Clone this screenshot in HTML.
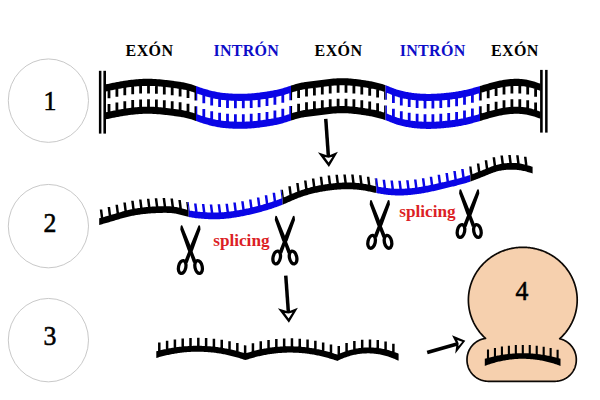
<!DOCTYPE html>
<html lang="es">
<head>
<meta charset="utf-8">
<title>Splicing</title>
<style>
html,body{margin:0;padding:0;background:#fff;}
body{width:600px;height:400px;position:relative;overflow:hidden;font-family:"Liberation Serif",serif;}
svg{position:absolute;left:0;top:0;display:block;}
.t{position:absolute;white-space:nowrap;line-height:1;margin:0;}
.lab{font-weight:bold;font-size:16px;color:#000;letter-spacing:0.4px;}
.int{color:#0d0dc8;letter-spacing:0.3px;}
.num{font-size:28px;color:#000;-webkit-text-stroke:0.6px #000;transform:scaleX(0.92);transform-origin:center;}
.sp{font-size:17.2px;font-weight:bold;color:#dc1f26;}
</style>
</head>
<body>
<svg width="600" height="400" viewBox="0 0 600 400">
<path fill="#000000" d="M105 84.5 L106 84.29 L107 84.09 L108 83.88 L109 83.68 L110 83.47 L111 83.27 L112 83.07 L113 82.87 L114 82.67 L115 82.48 L116 82.28 L117 82.09 L118 81.91 L119 81.72 L120 81.54 L121 81.36 L122 81.19 L123 81.02 L124 80.86 L125 80.7 L126 80.55 L127 80.4 L128 80.26 L129 80.12 L130 79.99 L131 79.86 L132 79.74 L133 79.63 L134 79.52 L135 79.42 L136 79.33 L137 79.24 L138 79.16 L139 79.09 L140 79.03 L141 78.97 L142 78.92 L143 78.87 L144 78.84 L145 78.81 L146 78.79 L147 78.78 L148 78.78 L149 78.79 L150 78.8 L151 78.82 L152 78.85 L153 78.89 L154 78.94 L155 79 L156 79.06 L157 79.13 L158 79.2 L159 79.28 L160 79.37 L161 79.46 L162 79.56 L163 79.66 L164 79.77 L165 79.88 L166 79.99 L167 80.11 L168 80.23 L169 80.36 L170 80.48 L171 80.61 L172 80.74 L173 80.87 L174 81 L175 81.13 L176 81.27 L177 81.4 L178 81.55 L179 81.69 L180 81.85 L181 82.01 L182 82.18 L183 82.36 L184 82.55 L185 82.75 L186 82.97 L187 83.2 L188 83.45 L189 83.72 L190 84 L191 84.3 L192 84.62 L193 84.95 L194 85.3 L195 85.65 L196 86 L196 93.1 L195 92.75 L194 92.4 L193 92.05 L192 91.72 L191 91.4 L190 91.1 L189 90.82 L188 90.55 L187 90.3 L186 90.07 L185 89.85 L184 89.65 L183 89.46 L182 89.28 L181 89.11 L180 88.95 L179 88.79 L178 88.65 L177 88.5 L176 88.37 L175 88.23 L174 88.1 L173 87.97 L172 87.84 L171 87.71 L170 87.58 L169 87.46 L168 87.33 L167 87.21 L166 87.09 L165 86.98 L164 86.87 L163 86.76 L162 86.66 L161 86.56 L160 86.47 L159 86.38 L158 86.3 L157 86.23 L156 86.16 L155 86.1 L154 86.04 L153 85.99 L152 85.95 L151 85.92 L150 85.9 L149 85.89 L148 85.88 L147 85.88 L146 85.89 L145 85.91 L144 85.94 L143 85.97 L142 86.02 L141 86.07 L140 86.13 L139 86.19 L138 86.26 L137 86.34 L136 86.43 L135 86.52 L134 86.62 L133 86.73 L132 86.84 L131 86.96 L130 87.09 L129 87.22 L128 87.36 L127 87.5 L126 87.65 L125 87.8 L124 87.96 L123 88.12 L122 88.29 L121 88.46 L120 88.64 L119 88.82 L118 89.01 L117 89.19 L116 89.38 L115 89.58 L114 89.77 L113 89.97 L112 90.17 L111 90.37 L110 90.57 L109 90.78 L108 90.98 L107 91.19 L106 91.39 L105 91.6ZM105 112.4 L106 112.19 L107 111.99 L108 111.78 L109 111.58 L110 111.37 L111 111.17 L112 110.97 L113 110.77 L114 110.57 L115 110.38 L116 110.18 L117 109.99 L118 109.81 L119 109.62 L120 109.44 L121 109.26 L122 109.09 L123 108.92 L124 108.76 L125 108.6 L126 108.45 L127 108.3 L128 108.16 L129 108.02 L130 107.89 L131 107.76 L132 107.64 L133 107.53 L134 107.42 L135 107.32 L136 107.23 L137 107.14 L138 107.06 L139 106.99 L140 106.93 L141 106.87 L142 106.82 L143 106.77 L144 106.74 L145 106.71 L146 106.69 L147 106.68 L148 106.68 L149 106.69 L150 106.7 L151 106.72 L152 106.75 L153 106.79 L154 106.84 L155 106.9 L156 106.96 L157 107.03 L158 107.1 L159 107.18 L160 107.27 L161 107.36 L162 107.46 L163 107.56 L164 107.67 L165 107.78 L166 107.89 L167 108.01 L168 108.13 L169 108.26 L170 108.38 L171 108.51 L172 108.64 L173 108.77 L174 108.9 L175 109.03 L176 109.17 L177 109.3 L178 109.45 L179 109.59 L180 109.75 L181 109.91 L182 110.08 L183 110.26 L184 110.45 L185 110.65 L186 110.87 L187 111.1 L188 111.35 L189 111.62 L190 111.9 L191 112.2 L192 112.52 L193 112.85 L194 113.2 L195 113.55 L196 113.9 L196 121 L195 120.65 L194 120.3 L193 119.95 L192 119.62 L191 119.3 L190 119 L189 118.72 L188 118.45 L187 118.2 L186 117.97 L185 117.75 L184 117.55 L183 117.36 L182 117.18 L181 117.01 L180 116.85 L179 116.69 L178 116.55 L177 116.4 L176 116.27 L175 116.13 L174 116 L173 115.87 L172 115.74 L171 115.61 L170 115.48 L169 115.36 L168 115.23 L167 115.11 L166 114.99 L165 114.88 L164 114.77 L163 114.66 L162 114.56 L161 114.46 L160 114.37 L159 114.28 L158 114.2 L157 114.13 L156 114.06 L155 114 L154 113.94 L153 113.89 L152 113.85 L151 113.82 L150 113.8 L149 113.79 L148 113.78 L147 113.78 L146 113.79 L145 113.81 L144 113.84 L143 113.87 L142 113.92 L141 113.97 L140 114.03 L139 114.09 L138 114.16 L137 114.24 L136 114.33 L135 114.42 L134 114.52 L133 114.63 L132 114.74 L131 114.86 L130 114.99 L129 115.12 L128 115.26 L127 115.4 L126 115.55 L125 115.7 L124 115.86 L123 116.02 L122 116.19 L121 116.36 L120 116.54 L119 116.72 L118 116.91 L117 117.09 L116 117.28 L115 117.48 L114 117.67 L113 117.87 L112 118.07 L111 118.27 L110 118.47 L109 118.68 L108 118.88 L107 119.09 L106 119.29 L105 119.5ZM107.6 90.28L110.4 90.28L110.4 98.28L107.6 98.28ZM115.5 88.71L118.3 88.71L118.3 96.71L115.5 96.71ZM123.4 87.33L126.2 87.33L126.2 95.33L123.4 95.33ZM131.3 86.26L134.1 86.26L134.1 94.26L131.3 94.26ZM139.2 85.59L142 85.59L142 93.59L139.2 93.59ZM147.1 85.38L149.9 85.38L149.9 93.38L147.1 93.38ZM155 85.69L157.8 85.69L157.8 93.69L155 93.69ZM162.9 86.4L165.7 86.4L165.7 94.4L162.9 94.4ZM170.8 87.36L173.6 87.36L173.6 95.36L170.8 95.36ZM178.7 88.46L181.5 88.46L181.5 96.46L178.7 96.46ZM186.6 90.05L189.4 90.05L189.4 98.05L186.6 98.05ZM194.5 92.56L196 92.56L196 100.56L194.5 100.56ZM107.6 104.08L110.4 104.08L110.4 112.08L107.6 112.08ZM115.5 102.51L118.3 102.51L118.3 110.51L115.5 110.51ZM123.4 101.13L126.2 101.13L126.2 109.13L123.4 109.13ZM131.3 100.06L134.1 100.06L134.1 108.06L131.3 108.06ZM139.2 99.39L142 99.39L142 107.39L139.2 107.39ZM147.1 99.18L149.9 99.18L149.9 107.18L147.1 107.18ZM155 99.49L157.8 99.49L157.8 107.49L155 107.49ZM162.9 100.2L165.7 100.2L165.7 108.2L162.9 108.2ZM170.8 101.16L173.6 101.16L173.6 109.16L170.8 109.16ZM178.7 102.26L181.5 102.26L181.5 110.26L178.7 110.26ZM186.6 103.85L189.4 103.85L189.4 111.85L186.6 111.85ZM194.5 106.36L196 106.36L196 114.36L194.5 114.36Z"/>
<path fill="#0a05e6" d="M196 86 L197 86.35 L198 86.71 L199 87.06 L200 87.4 L201 87.74 L202 88.08 L203 88.4 L204 88.71 L205 89.02 L206 89.31 L207 89.6 L208 89.87 L209 90.14 L210 90.4 L211 90.65 L212 90.9 L213 91.13 L214 91.36 L215 91.58 L216 91.79 L217 91.98 L218 92.17 L219 92.34 L220 92.5 L221 92.65 L222 92.78 L223 92.91 L224 93.02 L225 93.12 L226 93.21 L227 93.29 L228 93.37 L229 93.44 L230 93.5 L231 93.56 L232 93.61 L233 93.65 L234 93.69 L235 93.72 L236 93.75 L237 93.77 L238 93.79 L239 93.8 L240 93.8 L241 93.8 L242 93.79 L243 93.78 L244 93.76 L245 93.73 L246 93.7 L247 93.66 L248 93.62 L249 93.56 L250 93.5 L251 93.43 L252 93.35 L253 93.27 L254 93.18 L255 93.08 L256 92.98 L257 92.87 L258 92.75 L259 92.63 L260 92.5 L261 92.37 L262 92.23 L263 92.09 L264 91.94 L265 91.8 L266 91.64 L267 91.49 L268 91.33 L269 91.16 L270 91 L271 90.83 L272 90.66 L273 90.49 L274 90.3 L275 90.11 L276 89.91 L277 89.7 L278 89.48 L279 89.25 L280 89 L281 88.74 L282 88.46 L283 88.17 L284 87.86 L285 87.55 L286 87.24 L287 86.91 L288 86.59 L289 86.26 L290 85.93 L291 85.6 L291 92.7 L290 93.03 L289 93.36 L288 93.69 L287 94.01 L286 94.34 L285 94.65 L284 94.96 L283 95.27 L282 95.56 L281 95.84 L280 96.1 L279 96.35 L278 96.58 L277 96.8 L276 97.01 L275 97.21 L274 97.4 L273 97.59 L272 97.76 L271 97.93 L270 98.1 L269 98.26 L268 98.43 L267 98.59 L266 98.74 L265 98.9 L264 99.04 L263 99.19 L262 99.33 L261 99.47 L260 99.6 L259 99.73 L258 99.85 L257 99.97 L256 100.08 L255 100.18 L254 100.28 L253 100.37 L252 100.45 L251 100.53 L250 100.6 L249 100.66 L248 100.72 L247 100.76 L246 100.8 L245 100.83 L244 100.86 L243 100.88 L242 100.89 L241 100.9 L240 100.9 L239 100.9 L238 100.89 L237 100.87 L236 100.85 L235 100.82 L234 100.79 L233 100.75 L232 100.71 L231 100.66 L230 100.6 L229 100.54 L228 100.47 L227 100.39 L226 100.31 L225 100.22 L224 100.12 L223 100.01 L222 99.88 L221 99.75 L220 99.6 L219 99.44 L218 99.27 L217 99.08 L216 98.89 L215 98.68 L214 98.46 L213 98.23 L212 98 L211 97.75 L210 97.5 L209 97.24 L208 96.97 L207 96.7 L206 96.41 L205 96.12 L204 95.81 L203 95.5 L202 95.18 L201 94.84 L200 94.5 L199 94.16 L198 93.81 L197 93.45 L196 93.1ZM196 113.9 L197 114.25 L198 114.61 L199 114.96 L200 115.3 L201 115.64 L202 115.98 L203 116.3 L204 116.61 L205 116.92 L206 117.21 L207 117.5 L208 117.77 L209 118.04 L210 118.3 L211 118.55 L212 118.8 L213 119.03 L214 119.26 L215 119.48 L216 119.69 L217 119.88 L218 120.07 L219 120.24 L220 120.4 L221 120.55 L222 120.68 L223 120.81 L224 120.92 L225 121.02 L226 121.11 L227 121.19 L228 121.27 L229 121.34 L230 121.4 L231 121.46 L232 121.51 L233 121.55 L234 121.59 L235 121.62 L236 121.65 L237 121.67 L238 121.69 L239 121.7 L240 121.7 L241 121.7 L242 121.69 L243 121.68 L244 121.66 L245 121.63 L246 121.6 L247 121.56 L248 121.52 L249 121.46 L250 121.4 L251 121.33 L252 121.25 L253 121.17 L254 121.08 L255 120.98 L256 120.88 L257 120.77 L258 120.65 L259 120.53 L260 120.4 L261 120.27 L262 120.13 L263 119.99 L264 119.84 L265 119.7 L266 119.54 L267 119.39 L268 119.23 L269 119.06 L270 118.9 L271 118.73 L272 118.56 L273 118.39 L274 118.2 L275 118.01 L276 117.81 L277 117.6 L278 117.38 L279 117.15 L280 116.9 L281 116.64 L282 116.36 L283 116.07 L284 115.76 L285 115.45 L286 115.14 L287 114.81 L288 114.49 L289 114.16 L290 113.83 L291 113.5 L291 120.6 L290 120.93 L289 121.26 L288 121.59 L287 121.91 L286 122.24 L285 122.55 L284 122.86 L283 123.17 L282 123.46 L281 123.74 L280 124 L279 124.25 L278 124.48 L277 124.7 L276 124.91 L275 125.11 L274 125.3 L273 125.49 L272 125.66 L271 125.83 L270 126 L269 126.16 L268 126.33 L267 126.49 L266 126.64 L265 126.8 L264 126.94 L263 127.09 L262 127.23 L261 127.37 L260 127.5 L259 127.63 L258 127.75 L257 127.87 L256 127.98 L255 128.08 L254 128.18 L253 128.27 L252 128.35 L251 128.43 L250 128.5 L249 128.56 L248 128.62 L247 128.66 L246 128.7 L245 128.73 L244 128.76 L243 128.78 L242 128.79 L241 128.8 L240 128.8 L239 128.8 L238 128.79 L237 128.77 L236 128.75 L235 128.72 L234 128.69 L233 128.65 L232 128.61 L231 128.56 L230 128.5 L229 128.44 L228 128.37 L227 128.29 L226 128.21 L225 128.12 L224 128.02 L223 127.91 L222 127.78 L221 127.65 L220 127.5 L219 127.34 L218 127.17 L217 126.98 L216 126.79 L215 126.58 L214 126.36 L213 126.13 L212 125.9 L211 125.65 L210 125.4 L209 125.14 L208 124.87 L207 124.6 L206 124.31 L205 124.02 L204 123.71 L203 123.4 L202 123.08 L201 122.74 L200 122.4 L199 122.06 L198 121.71 L197 121.35 L196 121ZM196 92.56L197.3 92.56L197.3 100.56L196 100.56ZM202.4 95.25L205.2 95.25L205.2 103.25L202.4 103.25ZM210.3 97.42L213.1 97.42L213.1 105.42L210.3 105.42ZM218.2 99.04L221 99.04L221 107.04L218.2 107.04ZM226.1 99.93L228.9 99.93L228.9 107.93L226.1 107.93ZM234 100.33L236.8 100.33L236.8 108.33L234 108.33ZM241.9 100.37L244.7 100.37L244.7 108.37L241.9 108.37ZM249.8 100.02L252.6 100.02L252.6 108.02L249.8 108.02ZM257.7 99.21L260.5 99.21L260.5 107.21L257.7 107.21ZM265.6 98.09L268.4 98.09L268.4 106.09L265.6 106.09ZM273.5 96.73L276.3 96.73L276.3 104.73L273.5 104.73ZM281.4 94.83L284.2 94.83L284.2 102.83L281.4 102.83ZM289.3 92.3L291 92.3L291 100.3L289.3 100.3ZM196 106.36L197.3 106.36L197.3 114.36L196 114.36ZM202.4 109.05L205.2 109.05L205.2 117.05L202.4 117.05ZM210.3 111.22L213.1 111.22L213.1 119.22L210.3 119.22ZM218.2 112.84L221 112.84L221 120.84L218.2 120.84ZM226.1 113.73L228.9 113.73L228.9 121.73L226.1 121.73ZM234 114.13L236.8 114.13L236.8 122.13L234 122.13ZM241.9 114.17L244.7 114.17L244.7 122.17L241.9 122.17ZM249.8 113.82L252.6 113.82L252.6 121.82L249.8 121.82ZM257.7 113.01L260.5 113.01L260.5 121.01L257.7 121.01ZM265.6 111.89L268.4 111.89L268.4 119.89L265.6 119.89ZM273.5 110.53L276.3 110.53L276.3 118.53L273.5 118.53ZM281.4 108.63L284.2 108.63L284.2 116.63L281.4 116.63ZM289.3 106.1L291 106.1L291 114.1L289.3 114.1Z"/>
<path fill="#000000" d="M291 85.6 L292 85.28 L293 84.96 L294 84.64 L295 84.34 L296 84.04 L297 83.76 L298 83.49 L299 83.24 L300 83 L301 82.78 L302 82.58 L303 82.39 L304 82.22 L305 82.05 L306 81.9 L307 81.76 L308 81.63 L309 81.5 L310 81.38 L311 81.27 L312 81.15 L313 81.03 L314 80.92 L315 80.8 L316 80.68 L317 80.55 L318 80.42 L319 80.29 L320 80.16 L321 80.03 L322 79.9 L323 79.76 L324 79.63 L325 79.5 L326 79.38 L327 79.25 L328 79.13 L329 79.02 L330 78.91 L331 78.8 L332 78.7 L333 78.61 L334 78.52 L335 78.44 L336 78.38 L337 78.32 L338 78.27 L339 78.23 L340 78.2 L341 78.18 L342 78.18 L343 78.19 L344 78.2 L345 78.23 L346 78.27 L347 78.31 L348 78.37 L349 78.44 L350 78.51 L351 78.59 L352 78.68 L353 78.77 L354 78.88 L355 78.99 L356 79.1 L357 79.22 L358 79.35 L359 79.48 L360 79.62 L361 79.76 L362 79.9 L363 80.05 L364 80.2 L365 80.35 L366 80.51 L367 80.67 L368 80.84 L369 81.01 L370 81.18 L371 81.37 L372 81.56 L373 81.76 L374 81.96 L375 82.18 L376 82.41 L377 82.65 L378 82.9 L379 83.16 L380 83.43 L381 83.72 L382 84.02 L383 84.34 L384 84.67 L385 85.02 L385.5 85.2 L385.5 92.3 L385 92.12 L384 91.77 L383 91.44 L382 91.12 L381 90.82 L380 90.53 L379 90.26 L378 90 L377 89.75 L376 89.51 L375 89.28 L374 89.06 L373 88.86 L372 88.66 L371 88.47 L370 88.28 L369 88.11 L368 87.94 L367 87.77 L366 87.61 L365 87.45 L364 87.3 L363 87.15 L362 87 L361 86.86 L360 86.72 L359 86.58 L358 86.45 L357 86.32 L356 86.2 L355 86.09 L354 85.98 L353 85.87 L352 85.78 L351 85.69 L350 85.61 L349 85.54 L348 85.47 L347 85.41 L346 85.37 L345 85.33 L344 85.3 L343 85.29 L342 85.28 L341 85.28 L340 85.3 L339 85.33 L338 85.37 L337 85.42 L336 85.48 L335 85.54 L334 85.62 L333 85.71 L332 85.8 L331 85.9 L330 86.01 L329 86.12 L328 86.23 L327 86.35 L326 86.48 L325 86.6 L324 86.73 L323 86.86 L322 87 L321 87.13 L320 87.26 L319 87.39 L318 87.52 L317 87.65 L316 87.78 L315 87.9 L314 88.02 L313 88.13 L312 88.25 L311 88.37 L310 88.48 L309 88.6 L308 88.73 L307 88.86 L306 89 L305 89.15 L304 89.32 L303 89.49 L302 89.68 L301 89.88 L300 90.1 L299 90.34 L298 90.59 L297 90.86 L296 91.14 L295 91.44 L294 91.74 L293 92.06 L292 92.38 L291 92.7ZM291 113.5 L292 113.18 L293 112.86 L294 112.54 L295 112.24 L296 111.94 L297 111.66 L298 111.39 L299 111.14 L300 110.9 L301 110.68 L302 110.48 L303 110.29 L304 110.12 L305 109.95 L306 109.8 L307 109.66 L308 109.53 L309 109.4 L310 109.28 L311 109.17 L312 109.05 L313 108.93 L314 108.82 L315 108.7 L316 108.58 L317 108.45 L318 108.32 L319 108.19 L320 108.06 L321 107.93 L322 107.8 L323 107.66 L324 107.53 L325 107.4 L326 107.28 L327 107.15 L328 107.03 L329 106.92 L330 106.81 L331 106.7 L332 106.6 L333 106.51 L334 106.42 L335 106.34 L336 106.28 L337 106.22 L338 106.17 L339 106.13 L340 106.1 L341 106.08 L342 106.08 L343 106.09 L344 106.1 L345 106.13 L346 106.17 L347 106.21 L348 106.27 L349 106.34 L350 106.41 L351 106.49 L352 106.58 L353 106.67 L354 106.78 L355 106.89 L356 107 L357 107.12 L358 107.25 L359 107.38 L360 107.52 L361 107.66 L362 107.8 L363 107.95 L364 108.1 L365 108.25 L366 108.41 L367 108.57 L368 108.74 L369 108.91 L370 109.08 L371 109.27 L372 109.46 L373 109.66 L374 109.86 L375 110.08 L376 110.31 L377 110.55 L378 110.8 L379 111.06 L380 111.33 L381 111.62 L382 111.92 L383 112.24 L384 112.57 L385 112.92 L385.5 113.1 L385.5 120.2 L385 120.02 L384 119.67 L383 119.34 L382 119.02 L381 118.72 L380 118.43 L379 118.16 L378 117.9 L377 117.65 L376 117.41 L375 117.18 L374 116.96 L373 116.76 L372 116.56 L371 116.37 L370 116.18 L369 116.01 L368 115.84 L367 115.67 L366 115.51 L365 115.35 L364 115.2 L363 115.05 L362 114.9 L361 114.76 L360 114.62 L359 114.48 L358 114.35 L357 114.22 L356 114.1 L355 113.99 L354 113.88 L353 113.77 L352 113.68 L351 113.59 L350 113.51 L349 113.44 L348 113.37 L347 113.31 L346 113.27 L345 113.23 L344 113.2 L343 113.19 L342 113.18 L341 113.18 L340 113.2 L339 113.23 L338 113.27 L337 113.32 L336 113.38 L335 113.44 L334 113.52 L333 113.61 L332 113.7 L331 113.8 L330 113.91 L329 114.02 L328 114.13 L327 114.25 L326 114.38 L325 114.5 L324 114.63 L323 114.76 L322 114.9 L321 115.03 L320 115.16 L319 115.29 L318 115.42 L317 115.55 L316 115.68 L315 115.8 L314 115.92 L313 116.03 L312 116.15 L311 116.27 L310 116.38 L309 116.5 L308 116.63 L307 116.76 L306 116.9 L305 117.05 L304 117.22 L303 117.39 L302 117.58 L301 117.78 L300 118 L299 118.24 L298 118.49 L297 118.76 L296 119.04 L295 119.34 L294 119.64 L293 119.96 L292 120.28 L291 120.6ZM291 92.3L292.1 92.3L292.1 100.3L291 100.3ZM297.2 89.94L300 89.94L300 97.94L297.2 97.94ZM305.1 88.43L307.9 88.43L307.9 96.43L305.1 96.43ZM313 87.47L315.8 87.47L315.8 95.47L313 95.47ZM320.9 86.46L323.7 86.46L323.7 94.46L320.9 94.46ZM328.8 85.48L331.6 85.48L331.6 93.48L328.8 93.48ZM336.7 84.86L339.5 84.86L339.5 92.86L336.7 92.86ZM344.6 84.87L347.4 84.87L347.4 92.87L344.6 92.87ZM352.5 85.47L355.3 85.47L355.3 93.47L352.5 93.47ZM360.4 86.47L363.2 86.47L363.2 94.47L360.4 94.47ZM368.3 87.73L371.1 87.73L371.1 95.73L368.3 95.73ZM376.2 89.4L379 89.4L379 97.4L376.2 97.4ZM384.1 91.8L385.5 91.8L385.5 99.8L384.1 99.8ZM291 106.1L292.1 106.1L292.1 114.1L291 114.1ZM297.2 103.74L300 103.74L300 111.74L297.2 111.74ZM305.1 102.23L307.9 102.23L307.9 110.23L305.1 110.23ZM313 101.27L315.8 101.27L315.8 109.27L313 109.27ZM320.9 100.26L323.7 100.26L323.7 108.26L320.9 108.26ZM328.8 99.28L331.6 99.28L331.6 107.28L328.8 107.28ZM336.7 98.66L339.5 98.66L339.5 106.66L336.7 106.66ZM344.6 98.67L347.4 98.67L347.4 106.67L344.6 106.67ZM352.5 99.27L355.3 99.27L355.3 107.27L352.5 107.27ZM360.4 100.27L363.2 100.27L363.2 108.27L360.4 108.27ZM368.3 101.53L371.1 101.53L371.1 109.53L368.3 109.53ZM376.2 103.2L379 103.2L379 111.2L376.2 111.2ZM384.1 105.6L385.5 105.6L385.5 113.6L384.1 113.6Z"/>
<path fill="#0a05e6" d="M385.5 85.2 L386.5 85.57 L387.5 85.96 L388.5 86.36 L389.5 86.76 L390.5 87.16 L391.5 87.56 L392.5 87.96 L393.5 88.35 L394.5 88.72 L395.5 89.08 L396.5 89.41 L397.5 89.73 L398.5 90.04 L399.5 90.32 L400.5 90.59 L401.5 90.85 L402.5 91.09 L403.5 91.32 L404.5 91.53 L405.5 91.74 L406.5 91.93 L407.5 92.11 L408.5 92.28 L409.5 92.45 L410.5 92.6 L411.5 92.75 L412.5 92.88 L413.5 93.01 L414.5 93.13 L415.5 93.24 L416.5 93.34 L417.5 93.43 L418.5 93.51 L419.5 93.59 L420.5 93.65 L421.5 93.71 L422.5 93.76 L423.5 93.81 L424.5 93.84 L425.5 93.87 L426.5 93.89 L427.5 93.9 L428.5 93.9 L429.5 93.9 L430.5 93.89 L431.5 93.87 L432.5 93.84 L433.5 93.81 L434.5 93.77 L435.5 93.73 L436.5 93.68 L437.5 93.62 L438.5 93.56 L439.5 93.49 L440.5 93.41 L441.5 93.33 L442.5 93.25 L443.5 93.16 L444.5 93.07 L445.5 92.97 L446.5 92.86 L447.5 92.76 L448.5 92.64 L449.5 92.53 L450.5 92.41 L451.5 92.28 L452.5 92.15 L453.5 92.02 L454.5 91.88 L455.5 91.73 L456.5 91.58 L457.5 91.42 L458.5 91.26 L459.5 91.08 L460.5 90.9 L461.5 90.72 L462.5 90.52 L463.5 90.32 L464.5 90.11 L465.5 89.89 L466.5 89.66 L467.5 89.43 L468.5 89.18 L469.5 88.93 L470.5 88.67 L471.5 88.41 L472.5 88.14 L473.5 87.87 L474.5 87.59 L475.5 87.31 L476.5 87.02 L477.5 86.73 L478.5 86.44 L479.5 86.15 L480 86 L480 93.1 L479.5 93.25 L478.5 93.54 L477.5 93.83 L476.5 94.12 L475.5 94.41 L474.5 94.69 L473.5 94.97 L472.5 95.24 L471.5 95.51 L470.5 95.77 L469.5 96.03 L468.5 96.28 L467.5 96.53 L466.5 96.76 L465.5 96.99 L464.5 97.21 L463.5 97.42 L462.5 97.62 L461.5 97.82 L460.5 98 L459.5 98.18 L458.5 98.36 L457.5 98.52 L456.5 98.68 L455.5 98.83 L454.5 98.98 L453.5 99.12 L452.5 99.25 L451.5 99.38 L450.5 99.51 L449.5 99.63 L448.5 99.74 L447.5 99.86 L446.5 99.96 L445.5 100.07 L444.5 100.17 L443.5 100.26 L442.5 100.35 L441.5 100.43 L440.5 100.51 L439.5 100.59 L438.5 100.66 L437.5 100.72 L436.5 100.78 L435.5 100.83 L434.5 100.87 L433.5 100.91 L432.5 100.94 L431.5 100.97 L430.5 100.99 L429.5 101 L428.5 101 L427.5 101 L426.5 100.99 L425.5 100.97 L424.5 100.94 L423.5 100.91 L422.5 100.86 L421.5 100.81 L420.5 100.75 L419.5 100.69 L418.5 100.61 L417.5 100.53 L416.5 100.44 L415.5 100.34 L414.5 100.23 L413.5 100.11 L412.5 99.98 L411.5 99.85 L410.5 99.7 L409.5 99.55 L408.5 99.38 L407.5 99.21 L406.5 99.03 L405.5 98.84 L404.5 98.63 L403.5 98.42 L402.5 98.19 L401.5 97.95 L400.5 97.69 L399.5 97.42 L398.5 97.14 L397.5 96.83 L396.5 96.51 L395.5 96.18 L394.5 95.82 L393.5 95.45 L392.5 95.06 L391.5 94.66 L390.5 94.26 L389.5 93.86 L388.5 93.46 L387.5 93.06 L386.5 92.67 L385.5 92.3ZM385.5 113.1 L386.5 113.47 L387.5 113.86 L388.5 114.26 L389.5 114.66 L390.5 115.06 L391.5 115.46 L392.5 115.86 L393.5 116.25 L394.5 116.62 L395.5 116.98 L396.5 117.31 L397.5 117.63 L398.5 117.94 L399.5 118.22 L400.5 118.49 L401.5 118.75 L402.5 118.99 L403.5 119.22 L404.5 119.43 L405.5 119.64 L406.5 119.83 L407.5 120.01 L408.5 120.18 L409.5 120.35 L410.5 120.5 L411.5 120.65 L412.5 120.78 L413.5 120.91 L414.5 121.03 L415.5 121.14 L416.5 121.24 L417.5 121.33 L418.5 121.41 L419.5 121.49 L420.5 121.55 L421.5 121.61 L422.5 121.66 L423.5 121.71 L424.5 121.74 L425.5 121.77 L426.5 121.79 L427.5 121.8 L428.5 121.8 L429.5 121.8 L430.5 121.79 L431.5 121.77 L432.5 121.74 L433.5 121.71 L434.5 121.67 L435.5 121.63 L436.5 121.58 L437.5 121.52 L438.5 121.46 L439.5 121.39 L440.5 121.31 L441.5 121.23 L442.5 121.15 L443.5 121.06 L444.5 120.97 L445.5 120.87 L446.5 120.76 L447.5 120.66 L448.5 120.54 L449.5 120.43 L450.5 120.31 L451.5 120.18 L452.5 120.05 L453.5 119.92 L454.5 119.78 L455.5 119.63 L456.5 119.48 L457.5 119.32 L458.5 119.16 L459.5 118.98 L460.5 118.8 L461.5 118.62 L462.5 118.42 L463.5 118.22 L464.5 118.01 L465.5 117.79 L466.5 117.56 L467.5 117.33 L468.5 117.08 L469.5 116.83 L470.5 116.57 L471.5 116.31 L472.5 116.04 L473.5 115.77 L474.5 115.49 L475.5 115.21 L476.5 114.92 L477.5 114.63 L478.5 114.34 L479.5 114.05 L480 113.9 L480 121 L479.5 121.15 L478.5 121.44 L477.5 121.73 L476.5 122.02 L475.5 122.31 L474.5 122.59 L473.5 122.87 L472.5 123.14 L471.5 123.41 L470.5 123.67 L469.5 123.93 L468.5 124.18 L467.5 124.43 L466.5 124.66 L465.5 124.89 L464.5 125.11 L463.5 125.32 L462.5 125.52 L461.5 125.72 L460.5 125.9 L459.5 126.08 L458.5 126.26 L457.5 126.42 L456.5 126.58 L455.5 126.73 L454.5 126.88 L453.5 127.02 L452.5 127.15 L451.5 127.28 L450.5 127.41 L449.5 127.53 L448.5 127.64 L447.5 127.76 L446.5 127.86 L445.5 127.97 L444.5 128.07 L443.5 128.16 L442.5 128.25 L441.5 128.33 L440.5 128.41 L439.5 128.49 L438.5 128.56 L437.5 128.62 L436.5 128.68 L435.5 128.73 L434.5 128.77 L433.5 128.81 L432.5 128.84 L431.5 128.87 L430.5 128.89 L429.5 128.9 L428.5 128.9 L427.5 128.9 L426.5 128.89 L425.5 128.87 L424.5 128.84 L423.5 128.81 L422.5 128.76 L421.5 128.71 L420.5 128.65 L419.5 128.59 L418.5 128.51 L417.5 128.43 L416.5 128.34 L415.5 128.24 L414.5 128.13 L413.5 128.01 L412.5 127.88 L411.5 127.75 L410.5 127.6 L409.5 127.45 L408.5 127.28 L407.5 127.11 L406.5 126.93 L405.5 126.74 L404.5 126.53 L403.5 126.32 L402.5 126.09 L401.5 125.85 L400.5 125.59 L399.5 125.32 L398.5 125.04 L397.5 124.73 L396.5 124.41 L395.5 124.08 L394.5 123.72 L393.5 123.35 L392.5 122.96 L391.5 122.56 L390.5 122.16 L389.5 121.76 L388.5 121.36 L387.5 120.96 L386.5 120.57 L385.5 120.2ZM385.5 91.8L386.9 91.8L386.9 99.8L385.5 99.8ZM392 94.91L394.8 94.91L394.8 102.91L392 102.91ZM399.9 97.4L402.7 97.4L402.7 105.4L399.9 105.4ZM407.8 99L410.6 99L410.6 107L407.8 107ZM415.7 99.99L418.5 99.99L418.5 107.99L415.7 107.99ZM423.6 100.45L426.4 100.45L426.4 108.45L423.6 108.45ZM431.5 100.43L434.3 100.43L434.3 108.43L431.5 108.43ZM439.4 99.99L442.2 99.99L442.2 107.99L439.4 107.99ZM447.3 99.22L450.1 99.22L450.1 107.22L447.3 107.22ZM455.2 98.16L458 98.16L458 106.16L455.2 106.16ZM463.1 96.71L465.9 96.71L465.9 104.71L463.1 104.71ZM471 94.77L473.8 94.77L473.8 102.77L471 102.77ZM478.9 92.51L480 92.51L480 100.51L478.9 100.51ZM385.5 105.6L386.9 105.6L386.9 113.6L385.5 113.6ZM392 108.71L394.8 108.71L394.8 116.71L392 116.71ZM399.9 111.2L402.7 111.2L402.7 119.2L399.9 119.2ZM407.8 112.8L410.6 112.8L410.6 120.8L407.8 120.8ZM415.7 113.79L418.5 113.79L418.5 121.79L415.7 121.79ZM423.6 114.25L426.4 114.25L426.4 122.25L423.6 122.25ZM431.5 114.23L434.3 114.23L434.3 122.23L431.5 122.23ZM439.4 113.79L442.2 113.79L442.2 121.79L439.4 121.79ZM447.3 113.02L450.1 113.02L450.1 121.02L447.3 121.02ZM455.2 111.96L458 111.96L458 119.96L455.2 119.96ZM463.1 110.51L465.9 110.51L465.9 118.51L463.1 118.51ZM471 108.57L473.8 108.57L473.8 116.57L471 116.57ZM478.9 106.31L480 106.31L480 114.31L478.9 114.31Z"/>
<path fill="#000000" d="M480 86 L481 85.7 L482 85.41 L483 85.11 L484 84.81 L485 84.52 L486 84.22 L487 83.93 L488 83.64 L489 83.35 L490 83.07 L491 82.79 L492 82.52 L493 82.25 L494 81.99 L495 81.74 L496 81.49 L497 81.25 L498 81.02 L499 80.8 L500 80.59 L501 80.39 L502 80.2 L503 80.02 L504 79.85 L505 79.69 L506 79.55 L507 79.41 L508 79.29 L509 79.18 L510 79.09 L511 79.01 L512 78.94 L513 78.88 L514 78.84 L515 78.81 L516 78.8 L517 78.8 L518 78.82 L519 78.85 L520 78.9 L521 78.97 L522 79.05 L523 79.16 L524 79.27 L525 79.41 L526 79.57 L527 79.75 L528 79.94 L529 80.16 L530 80.4 L531 80.66 L532 80.94 L533 81.23 L534 81.55 L535 81.87 L536 82.21 L537 82.55 L538 82.9 L539 83.26 L540 83.62 L540.5 83.8 L540.5 90.9 L540 90.72 L539 90.36 L538 90 L537 89.65 L536 89.31 L535 88.97 L534 88.65 L533 88.33 L532 88.04 L531 87.76 L530 87.5 L529 87.26 L528 87.04 L527 86.85 L526 86.67 L525 86.51 L524 86.37 L523 86.26 L522 86.15 L521 86.07 L520 86 L519 85.95 L518 85.92 L517 85.9 L516 85.9 L515 85.91 L514 85.94 L513 85.98 L512 86.04 L511 86.11 L510 86.19 L509 86.28 L508 86.39 L507 86.51 L506 86.65 L505 86.79 L504 86.95 L503 87.12 L502 87.3 L501 87.49 L500 87.69 L499 87.9 L498 88.12 L497 88.35 L496 88.59 L495 88.84 L494 89.09 L493 89.35 L492 89.62 L491 89.89 L490 90.17 L489 90.45 L488 90.74 L487 91.03 L486 91.32 L485 91.62 L484 91.91 L483 92.21 L482 92.51 L481 92.8 L480 93.1ZM480 113.9 L481 113.6 L482 113.31 L483 113.01 L484 112.71 L485 112.42 L486 112.12 L487 111.83 L488 111.54 L489 111.25 L490 110.97 L491 110.69 L492 110.42 L493 110.15 L494 109.89 L495 109.64 L496 109.39 L497 109.15 L498 108.92 L499 108.7 L500 108.49 L501 108.29 L502 108.1 L503 107.92 L504 107.75 L505 107.59 L506 107.45 L507 107.31 L508 107.19 L509 107.08 L510 106.99 L511 106.91 L512 106.84 L513 106.78 L514 106.74 L515 106.71 L516 106.7 L517 106.7 L518 106.72 L519 106.75 L520 106.8 L521 106.87 L522 106.95 L523 107.06 L524 107.17 L525 107.31 L526 107.47 L527 107.65 L528 107.84 L529 108.06 L530 108.3 L531 108.56 L532 108.84 L533 109.13 L534 109.45 L535 109.77 L536 110.11 L537 110.45 L538 110.8 L539 111.16 L540 111.52 L540.5 111.7 L540.5 118.8 L540 118.62 L539 118.26 L538 117.9 L537 117.55 L536 117.21 L535 116.87 L534 116.55 L533 116.23 L532 115.94 L531 115.66 L530 115.4 L529 115.16 L528 114.94 L527 114.75 L526 114.57 L525 114.41 L524 114.27 L523 114.16 L522 114.05 L521 113.97 L520 113.9 L519 113.85 L518 113.82 L517 113.8 L516 113.8 L515 113.81 L514 113.84 L513 113.88 L512 113.94 L511 114.01 L510 114.09 L509 114.18 L508 114.29 L507 114.41 L506 114.55 L505 114.69 L504 114.85 L503 115.02 L502 115.2 L501 115.39 L500 115.59 L499 115.8 L498 116.02 L497 116.25 L496 116.49 L495 116.74 L494 116.99 L493 117.25 L492 117.52 L491 117.79 L490 118.07 L489 118.35 L488 118.64 L487 118.93 L486 119.22 L485 119.52 L484 119.81 L483 120.11 L482 120.41 L481 120.7 L480 121ZM480 92.51L481.7 92.51L481.7 100.51L480 100.51ZM486.8 90.18L489.6 90.18L489.6 98.18L486.8 98.18ZM494.7 88.06L497.5 88.06L497.5 96.06L494.7 96.06ZM502.6 86.45L505.4 86.45L505.4 94.45L502.6 94.45ZM510.5 85.54L513.3 85.54L513.3 93.54L510.5 93.54ZM518.4 85.49L521.2 85.49L521.2 93.49L518.4 93.49ZM526.3 86.48L529.1 86.48L529.1 94.48L526.3 94.48ZM534.2 88.67L537 88.67L537 96.67L534.2 96.67ZM480 106.31L481.7 106.31L481.7 114.31L480 114.31ZM486.8 103.98L489.6 103.98L489.6 111.98L486.8 111.98ZM494.7 101.86L497.5 101.86L497.5 109.86L494.7 109.86ZM502.6 100.25L505.4 100.25L505.4 108.25L502.6 108.25ZM510.5 99.34L513.3 99.34L513.3 107.34L510.5 107.34ZM518.4 99.29L521.2 99.29L521.2 107.29L518.4 107.29ZM526.3 100.28L529.1 100.28L529.1 108.28L526.3 108.28ZM534.2 102.47L537 102.47L537 110.47L534.2 110.47Z"/>
<rect x="98.9" y="70.8" width="2.5" height="62.8" fill="#000"/>
<rect x="103.4" y="70.8" width="2.6" height="62.8" fill="#000"/>
<rect x="540.1" y="69.9" width="2.6" height="62.7" fill="#000"/>
<rect x="545.1" y="69.9" width="2.5" height="62.7" fill="#000"/>
<path fill="#000000" d="M99.2 218.3 L100.2 218.02 L101.2 217.73 L102.2 217.45 L103.2 217.16 L104.2 216.88 L105.2 216.59 L106.2 216.31 L107.2 216.02 L108.2 215.73 L109.2 215.44 L110.2 215.14 L111.2 214.85 L112.2 214.55 L113.2 214.25 L114.2 213.95 L115.2 213.65 L116.2 213.35 L117.2 213.05 L118.2 212.76 L119.2 212.46 L120.2 212.17 L121.2 211.88 L122.2 211.6 L123.2 211.32 L124.2 211.04 L125.2 210.78 L126.2 210.52 L127.2 210.27 L128.2 210.02 L129.2 209.79 L130.2 209.57 L131.2 209.35 L132.2 209.14 L133.2 208.94 L134.2 208.75 L135.2 208.57 L136.2 208.4 L137.2 208.23 L138.2 208.08 L139.2 207.93 L140.2 207.79 L141.2 207.65 L142.2 207.52 L143.2 207.4 L144.2 207.29 L145.2 207.18 L146.2 207.08 L147.2 206.98 L148.2 206.89 L149.2 206.81 L150.2 206.73 L151.2 206.66 L152.2 206.6 L153.2 206.53 L154.2 206.48 L155.2 206.43 L156.2 206.38 L157.2 206.34 L158.2 206.3 L159.2 206.27 L160.2 206.24 L161.2 206.21 L162.2 206.19 L163.2 206.17 L164.2 206.16 L165.2 206.16 L166.2 206.16 L167.2 206.18 L168.2 206.21 L169.2 206.25 L170.2 206.31 L171.2 206.39 L172.2 206.49 L173.2 206.61 L174.2 206.74 L175.2 206.89 L176.2 207.07 L177.2 207.26 L178.2 207.48 L179.2 207.71 L180.2 207.97 L181.2 208.23 L182.2 208.51 L183.2 208.79 L184.2 209.07 L185.2 209.35 L186.2 209.62 L187.2 209.88 L188.2 210.13 L188.7 210.25 L188.7 216.95 L188.2 216.83 L187.2 216.58 L186.2 216.32 L185.2 216.05 L184.2 215.77 L183.2 215.49 L182.2 215.21 L181.2 214.93 L180.2 214.67 L179.2 214.41 L178.2 214.18 L177.2 213.96 L176.2 213.77 L175.2 213.59 L174.2 213.44 L173.2 213.31 L172.2 213.19 L171.2 213.09 L170.2 213.01 L169.2 212.95 L168.2 212.91 L167.2 212.88 L166.2 212.86 L165.2 212.86 L164.2 212.86 L163.2 212.87 L162.2 212.89 L161.2 212.91 L160.2 212.94 L159.2 212.97 L158.2 213 L157.2 213.04 L156.2 213.08 L155.2 213.13 L154.2 213.18 L153.2 213.23 L152.2 213.3 L151.2 213.36 L150.2 213.43 L149.2 213.51 L148.2 213.59 L147.2 213.68 L146.2 213.78 L145.2 213.88 L144.2 213.99 L143.2 214.1 L142.2 214.22 L141.2 214.35 L140.2 214.49 L139.2 214.63 L138.2 214.78 L137.2 214.93 L136.2 215.1 L135.2 215.27 L134.2 215.45 L133.2 215.64 L132.2 215.84 L131.2 216.05 L130.2 216.27 L129.2 216.49 L128.2 216.72 L127.2 216.97 L126.2 217.22 L125.2 217.48 L124.2 217.74 L123.2 218.02 L122.2 218.3 L121.2 218.58 L120.2 218.87 L119.2 219.16 L118.2 219.46 L117.2 219.75 L116.2 220.05 L115.2 220.35 L114.2 220.65 L113.2 220.95 L112.2 221.25 L111.2 221.55 L110.2 221.84 L109.2 222.14 L108.2 222.43 L107.2 222.72 L106.2 223.01 L105.2 223.29 L104.2 223.58 L103.2 223.86 L102.2 224.15 L101.2 224.43 L100.2 224.72 L99.2 225ZM99.75 209.38L102.25 209.38L103.35 217.98L100.85 217.98ZM107.61 207.11L110.11 207.11L111.21 215.71L108.71 215.71ZM115.46 204.77L117.96 204.77L119.06 213.37L116.56 213.37ZM123.32 202.56L125.82 202.56L126.92 211.16L124.42 211.16ZM131.17 200.78L133.67 200.78L134.77 209.38L132.27 209.38ZM139.03 199.53L141.53 199.53L142.63 208.13L140.13 208.13ZM146.89 198.71L149.39 198.71L150.49 207.31L147.99 207.31ZM154.74 198.24L157.24 198.24L158.34 206.84L155.84 206.84ZM162.6 198.06L165.1 198.06L166.2 206.66L163.7 206.66ZM170.45 198.46L172.95 198.46L174.05 207.06L171.55 207.06ZM178.31 199.99L180.81 199.99L181.91 208.59L179.41 208.59ZM186.17 202.1L187.6 202.1L188.7 210.7L187.27 210.7Z"/>
<path fill="#0a05e6" d="M188.7 210.25 L189.7 210.46 L190.7 210.66 L191.7 210.85 L192.7 211.01 L193.7 211.17 L194.7 211.3 L195.7 211.43 L196.7 211.55 L197.7 211.65 L198.7 211.75 L199.7 211.84 L200.7 211.92 L201.7 212 L202.7 212.07 L203.7 212.15 L204.7 212.21 L205.7 212.27 L206.7 212.33 L207.7 212.38 L208.7 212.43 L209.7 212.47 L210.7 212.5 L211.7 212.53 L212.7 212.55 L213.7 212.56 L214.7 212.56 L215.7 212.56 L216.7 212.54 L217.7 212.52 L218.7 212.49 L219.7 212.44 L220.7 212.39 L221.7 212.33 L222.7 212.26 L223.7 212.18 L224.7 212.1 L225.7 212 L226.7 211.9 L227.7 211.79 L228.7 211.68 L229.7 211.56 L230.7 211.43 L231.7 211.29 L232.7 211.15 L233.7 211 L234.7 210.85 L235.7 210.69 L236.7 210.53 L237.7 210.36 L238.7 210.18 L239.7 210 L240.7 209.82 L241.7 209.63 L242.7 209.44 L243.7 209.24 L244.7 209.04 L245.7 208.83 L246.7 208.62 L247.7 208.41 L248.7 208.19 L249.7 207.96 L250.7 207.73 L251.7 207.5 L252.7 207.26 L253.7 207.02 L254.7 206.77 L255.7 206.52 L256.7 206.27 L257.7 206.01 L258.7 205.75 L259.7 205.48 L260.7 205.21 L261.7 204.93 L262.7 204.65 L263.7 204.37 L264.7 204.08 L265.7 203.78 L266.7 203.49 L267.7 203.18 L268.7 202.88 L269.7 202.57 L270.7 202.25 L271.7 201.93 L272.7 201.6 L273.7 201.26 L274.7 200.92 L275.7 200.58 L276.7 200.22 L277.7 199.86 L278.7 199.49 L279.7 199.11 L280.7 198.72 L281.7 198.32 L282.6 197.96 L282.6 204.66 L281.7 205.02 L280.7 205.42 L279.7 205.81 L278.7 206.19 L277.7 206.56 L276.7 206.92 L275.7 207.28 L274.7 207.62 L273.7 207.96 L272.7 208.3 L271.7 208.63 L270.7 208.95 L269.7 209.27 L268.7 209.58 L267.7 209.88 L266.7 210.19 L265.7 210.48 L264.7 210.78 L263.7 211.07 L262.7 211.35 L261.7 211.63 L260.7 211.91 L259.7 212.18 L258.7 212.45 L257.7 212.71 L256.7 212.97 L255.7 213.22 L254.7 213.47 L253.7 213.72 L252.7 213.96 L251.7 214.2 L250.7 214.43 L249.7 214.66 L248.7 214.89 L247.7 215.11 L246.7 215.32 L245.7 215.53 L244.7 215.74 L243.7 215.94 L242.7 216.14 L241.7 216.33 L240.7 216.52 L239.7 216.7 L238.7 216.88 L237.7 217.06 L236.7 217.23 L235.7 217.39 L234.7 217.55 L233.7 217.7 L232.7 217.85 L231.7 217.99 L230.7 218.13 L229.7 218.26 L228.7 218.38 L227.7 218.49 L226.7 218.6 L225.7 218.7 L224.7 218.8 L223.7 218.88 L222.7 218.96 L221.7 219.03 L220.7 219.09 L219.7 219.14 L218.7 219.19 L217.7 219.22 L216.7 219.24 L215.7 219.26 L214.7 219.26 L213.7 219.26 L212.7 219.25 L211.7 219.23 L210.7 219.2 L209.7 219.17 L208.7 219.13 L207.7 219.08 L206.7 219.03 L205.7 218.97 L204.7 218.91 L203.7 218.85 L202.7 218.77 L201.7 218.7 L200.7 218.62 L199.7 218.54 L198.7 218.45 L197.7 218.35 L196.7 218.25 L195.7 218.13 L194.7 218 L193.7 217.87 L192.7 217.71 L191.7 217.55 L190.7 217.36 L189.7 217.16 L188.7 216.95ZM187.6 202.1L188.67 202.1L189.77 210.7L188.7 210.7ZM194.02 203.41L196.52 203.41L197.62 212.01L195.12 212.01ZM201.88 204.08L204.38 204.08L205.48 212.68L202.98 212.68ZM209.73 204.44L212.23 204.44L213.33 213.04L210.83 213.04ZM217.59 204.33L220.09 204.33L221.19 212.93L218.69 212.93ZM225.45 203.68L227.95 203.68L229.05 212.28L226.55 212.28ZM233.3 202.6L235.8 202.6L236.9 211.2L234.4 211.2ZM241.16 201.18L243.66 201.18L244.76 209.78L242.26 209.78ZM249.01 199.48L251.51 199.48L252.61 208.08L250.11 208.08ZM256.87 197.51L259.37 197.51L260.47 206.11L257.97 206.11ZM264.73 195.27L267.23 195.27L268.33 203.87L265.83 203.87ZM272.58 192.74L275.08 192.74L276.18 201.34L273.68 201.34ZM280.44 189.78L281.5 189.78L282.6 198.38L281.54 198.38Z"/>
<path fill="#000000" d="M282.6 197.96 L283.6 197.54 L284.6 197.12 L285.6 196.69 L286.6 196.25 L287.6 195.81 L288.6 195.37 L289.6 194.93 L290.6 194.49 L291.6 194.05 L292.6 193.61 L293.6 193.18 L294.6 192.76 L295.6 192.35 L296.6 191.94 L297.6 191.55 L298.6 191.16 L299.6 190.79 L300.6 190.43 L301.6 190.08 L302.6 189.74 L303.6 189.41 L304.6 189.09 L305.6 188.78 L306.6 188.48 L307.6 188.19 L308.6 187.91 L309.6 187.64 L310.6 187.37 L311.6 187.12 L312.6 186.87 L313.6 186.63 L314.6 186.4 L315.6 186.17 L316.6 185.96 L317.6 185.75 L318.6 185.55 L319.6 185.35 L320.6 185.16 L321.6 184.98 L322.6 184.81 L323.6 184.64 L324.6 184.48 L325.6 184.32 L326.6 184.17 L327.6 184.02 L328.6 183.89 L329.6 183.75 L330.6 183.62 L331.6 183.5 L332.6 183.38 L333.6 183.27 L334.6 183.17 L335.6 183.07 L336.6 182.98 L337.6 182.89 L338.6 182.82 L339.6 182.75 L340.6 182.69 L341.6 182.63 L342.6 182.59 L343.6 182.55 L344.6 182.52 L345.6 182.51 L346.6 182.5 L347.6 182.5 L348.6 182.51 L349.6 182.54 L350.6 182.57 L351.6 182.61 L352.6 182.65 L353.6 182.71 L354.6 182.77 L355.6 182.84 L356.6 182.92 L357.6 183.01 L358.6 183.1 L359.6 183.21 L360.6 183.33 L361.6 183.45 L362.6 183.59 L363.6 183.75 L364.6 183.91 L365.6 184.09 L366.6 184.28 L367.6 184.47 L368.6 184.68 L369.6 184.88 L370.6 185.09 L371.6 185.31 L372.6 185.52 L373.6 185.74 L374.6 185.95 L375.6 186.16 L376.4 186.32 L376.4 193.02 L375.6 192.86 L374.6 192.65 L373.6 192.44 L372.6 192.22 L371.6 192.01 L370.6 191.79 L369.6 191.58 L368.6 191.38 L367.6 191.17 L366.6 190.98 L365.6 190.79 L364.6 190.61 L363.6 190.45 L362.6 190.29 L361.6 190.15 L360.6 190.03 L359.6 189.91 L358.6 189.8 L357.6 189.71 L356.6 189.62 L355.6 189.54 L354.6 189.47 L353.6 189.41 L352.6 189.35 L351.6 189.31 L350.6 189.27 L349.6 189.24 L348.6 189.21 L347.6 189.2 L346.6 189.2 L345.6 189.21 L344.6 189.22 L343.6 189.25 L342.6 189.29 L341.6 189.33 L340.6 189.39 L339.6 189.45 L338.6 189.52 L337.6 189.59 L336.6 189.68 L335.6 189.77 L334.6 189.87 L333.6 189.97 L332.6 190.08 L331.6 190.2 L330.6 190.32 L329.6 190.45 L328.6 190.59 L327.6 190.72 L326.6 190.87 L325.6 191.02 L324.6 191.18 L323.6 191.34 L322.6 191.51 L321.6 191.68 L320.6 191.86 L319.6 192.05 L318.6 192.25 L317.6 192.45 L316.6 192.66 L315.6 192.87 L314.6 193.1 L313.6 193.33 L312.6 193.57 L311.6 193.82 L310.6 194.07 L309.6 194.34 L308.6 194.61 L307.6 194.89 L306.6 195.18 L305.6 195.48 L304.6 195.79 L303.6 196.11 L302.6 196.44 L301.6 196.78 L300.6 197.13 L299.6 197.49 L298.6 197.86 L297.6 198.25 L296.6 198.64 L295.6 199.05 L294.6 199.46 L293.6 199.88 L292.6 200.31 L291.6 200.75 L290.6 201.19 L289.6 201.63 L288.6 202.07 L287.6 202.51 L286.6 202.95 L285.6 203.39 L284.6 203.82 L283.6 204.24 L282.6 204.66ZM281.5 189.78L282.94 189.78L284.04 198.38L282.6 198.38ZM288.29 186.37L290.79 186.37L291.89 194.97L289.39 194.97ZM296.15 183.1L298.65 183.1L299.75 191.7L297.25 191.7ZM304.01 180.45L306.51 180.45L307.61 189.05L305.11 189.05ZM311.86 178.39L314.36 178.39L315.46 186.99L312.96 186.99ZM319.72 176.8L322.22 176.8L323.32 185.4L320.82 185.4ZM327.57 175.61L330.07 175.61L331.17 184.21L328.67 184.21ZM335.43 174.78L337.93 174.78L339.03 183.38L336.53 183.38ZM343.29 174.41L345.79 174.41L346.89 183.01L344.39 183.01ZM351.14 174.6L353.64 174.6L354.74 183.2L352.24 183.2ZM359 175.32L361.5 175.32L362.6 183.92L360.1 183.92ZM366.85 176.7L369.35 176.7L370.45 185.3L367.95 185.3ZM374.71 178.35L375.3 178.35L376.4 186.95L375.81 186.95Z"/>
<path fill="#0a05e6" d="M376.4 186.32 L377.4 186.52 L378.4 186.71 L379.4 186.89 L380.4 187.07 L381.4 187.24 L382.4 187.4 L383.4 187.56 L384.4 187.7 L385.4 187.84 L386.4 187.96 L387.4 188.08 L388.4 188.19 L389.4 188.29 L390.4 188.38 L391.4 188.46 L392.4 188.53 L393.4 188.59 L394.4 188.64 L395.4 188.69 L396.4 188.72 L397.4 188.74 L398.4 188.76 L399.4 188.77 L400.4 188.76 L401.4 188.75 L402.4 188.73 L403.4 188.7 L404.4 188.66 L405.4 188.61 L406.4 188.55 L407.4 188.48 L408.4 188.41 L409.4 188.32 L410.4 188.23 L411.4 188.14 L412.4 188.03 L413.4 187.92 L414.4 187.8 L415.4 187.67 L416.4 187.53 L417.4 187.39 L418.4 187.25 L419.4 187.09 L420.4 186.94 L421.4 186.77 L422.4 186.6 L423.4 186.43 L424.4 186.25 L425.4 186.06 L426.4 185.87 L427.4 185.68 L428.4 185.48 L429.4 185.28 L430.4 185.07 L431.4 184.86 L432.4 184.65 L433.4 184.43 L434.4 184.22 L435.4 183.99 L436.4 183.77 L437.4 183.54 L438.4 183.31 L439.4 183.08 L440.4 182.84 L441.4 182.61 L442.4 182.37 L443.4 182.13 L444.4 181.89 L445.4 181.65 L446.4 181.4 L447.4 181.16 L448.4 180.91 L449.4 180.67 L450.4 180.42 L451.4 180.17 L452.4 179.92 L453.4 179.68 L454.4 179.43 L455.4 179.18 L456.4 178.93 L457.4 178.67 L458.4 178.42 L459.4 178.16 L460.4 177.89 L461.4 177.62 L462.4 177.35 L463.4 177.07 L464.4 176.78 L465.4 176.48 L466.4 176.18 L467.4 175.86 L468.4 175.54 L469.4 175.21 L470.4 174.86 L470.4 181.56 L469.4 181.91 L468.4 182.24 L467.4 182.56 L466.4 182.88 L465.4 183.18 L464.4 183.48 L463.4 183.77 L462.4 184.05 L461.4 184.32 L460.4 184.59 L459.4 184.86 L458.4 185.12 L457.4 185.37 L456.4 185.63 L455.4 185.88 L454.4 186.13 L453.4 186.38 L452.4 186.62 L451.4 186.87 L450.4 187.12 L449.4 187.37 L448.4 187.61 L447.4 187.86 L446.4 188.1 L445.4 188.35 L444.4 188.59 L443.4 188.83 L442.4 189.07 L441.4 189.31 L440.4 189.54 L439.4 189.78 L438.4 190.01 L437.4 190.24 L436.4 190.47 L435.4 190.69 L434.4 190.92 L433.4 191.13 L432.4 191.35 L431.4 191.56 L430.4 191.77 L429.4 191.98 L428.4 192.18 L427.4 192.38 L426.4 192.57 L425.4 192.76 L424.4 192.95 L423.4 193.13 L422.4 193.3 L421.4 193.47 L420.4 193.64 L419.4 193.79 L418.4 193.95 L417.4 194.09 L416.4 194.23 L415.4 194.37 L414.4 194.5 L413.4 194.62 L412.4 194.73 L411.4 194.84 L410.4 194.93 L409.4 195.02 L408.4 195.11 L407.4 195.18 L406.4 195.25 L405.4 195.31 L404.4 195.36 L403.4 195.4 L402.4 195.43 L401.4 195.45 L400.4 195.46 L399.4 195.47 L398.4 195.46 L397.4 195.44 L396.4 195.42 L395.4 195.39 L394.4 195.34 L393.4 195.29 L392.4 195.23 L391.4 195.16 L390.4 195.08 L389.4 194.99 L388.4 194.89 L387.4 194.78 L386.4 194.66 L385.4 194.54 L384.4 194.4 L383.4 194.26 L382.4 194.1 L381.4 193.94 L380.4 193.77 L379.4 193.59 L378.4 193.41 L377.4 193.22 L376.4 193.02ZM375.3 178.35L377.21 178.35L378.31 186.95L376.4 186.95ZM382.57 179.67L385.07 179.67L386.17 188.27L383.67 188.27ZM390.42 180.45L392.92 180.45L394.02 189.05L391.52 189.05ZM398.28 180.66L400.78 180.66L401.88 189.26L399.38 189.26ZM406.13 180.3L408.63 180.3L409.73 188.9L407.23 188.9ZM413.99 179.44L416.49 179.44L417.59 188.04L415.09 188.04ZM421.85 178.18L424.35 178.18L425.45 186.78L422.95 186.78ZM429.7 176.63L432.2 176.63L433.3 185.23L430.8 185.23ZM437.56 174.86L440.06 174.86L441.16 183.46L438.66 183.46ZM445.41 172.97L447.91 172.97L449.01 181.57L446.51 181.57ZM453.27 171.02L455.77 171.02L456.87 179.62L454.37 179.62ZM461.13 168.94L463.63 168.94L464.73 177.54L462.23 177.54ZM468.98 166.43L469.3 166.43L470.4 175.03L470.08 175.03Z"/>
<path fill="#000000" d="M470.4 174.86 L471.4 174.5 L472.4 174.14 L473.4 173.77 L474.4 173.39 L475.4 173 L476.4 172.62 L477.4 172.23 L478.4 171.84 L479.4 171.45 L480.4 171.05 L481.4 170.66 L482.4 170.26 L483.4 169.85 L484.4 169.45 L485.4 169.03 L486.4 168.62 L487.4 168.21 L488.4 167.79 L489.4 167.39 L490.4 166.99 L491.4 166.6 L492.4 166.22 L493.4 165.87 L494.4 165.53 L495.4 165.21 L496.4 164.91 L497.4 164.63 L498.4 164.38 L499.4 164.15 L500.4 163.94 L501.4 163.75 L502.4 163.59 L503.4 163.45 L504.4 163.34 L505.4 163.24 L506.4 163.16 L507.4 163.1 L508.4 163.05 L509.4 163.02 L510.4 162.99 L511.4 162.98 L512.4 162.97 L513.4 162.99 L514.4 163.01 L515.4 163.06 L516.4 163.12 L517.4 163.21 L518.4 163.31 L519.4 163.44 L520.4 163.6 L521.4 163.77 L522.4 163.96 L523.4 164.18 L524.4 164.41 L525.4 164.66 L526.4 164.92 L527.4 165.19 L528.4 165.48 L529.4 165.78 L530.4 166.09 L531.4 166.4 L532.4 166.71 L532.6 166.77 L532.6 173.47 L532.4 173.41 L531.4 173.1 L530.4 172.79 L529.4 172.48 L528.4 172.18 L527.4 171.89 L526.4 171.62 L525.4 171.36 L524.4 171.11 L523.4 170.88 L522.4 170.66 L521.4 170.47 L520.4 170.3 L519.4 170.14 L518.4 170.01 L517.4 169.91 L516.4 169.82 L515.4 169.76 L514.4 169.71 L513.4 169.69 L512.4 169.67 L511.4 169.68 L510.4 169.69 L509.4 169.72 L508.4 169.75 L507.4 169.8 L506.4 169.86 L505.4 169.94 L504.4 170.04 L503.4 170.15 L502.4 170.29 L501.4 170.45 L500.4 170.64 L499.4 170.85 L498.4 171.08 L497.4 171.33 L496.4 171.61 L495.4 171.91 L494.4 172.23 L493.4 172.57 L492.4 172.92 L491.4 173.3 L490.4 173.69 L489.4 174.09 L488.4 174.49 L487.4 174.91 L486.4 175.32 L485.4 175.73 L484.4 176.15 L483.4 176.55 L482.4 176.96 L481.4 177.36 L480.4 177.75 L479.4 178.15 L478.4 178.54 L477.4 178.93 L476.4 179.32 L475.4 179.7 L474.4 180.09 L473.4 180.47 L472.4 180.84 L471.4 181.2 L470.4 181.56ZM469.3 166.43L471.48 166.43L472.58 175.03L470.4 175.03ZM476.84 163.43L479.34 163.43L480.44 172.03L477.94 172.03ZM484.69 160.25L487.19 160.25L488.29 168.85L485.79 168.85ZM492.55 157.26L495.05 157.26L496.15 165.86L493.65 165.86ZM500.41 155.44L502.91 155.44L504.01 164.04L501.51 164.04ZM508.26 154.89L510.76 154.89L511.86 163.49L509.36 163.49ZM516.12 155.22L518.62 155.22L519.72 163.82L517.22 163.82ZM523.97 156.8L526.47 156.8L527.57 165.4L525.07 165.4Z"/>
<path fill="#000" d="M156.3 351.3 L157.3 351.04 L158.3 350.78 L159.3 350.52 L160.3 350.28 L161.3 350.04 L162.3 349.81 L163.3 349.58 L164.3 349.36 L165.3 349.15 L166.3 348.95 L167.3 348.75 L168.3 348.55 L169.3 348.37 L170.3 348.19 L171.3 348.01 L172.3 347.85 L173.3 347.69 L174.3 347.53 L175.3 347.39 L176.3 347.25 L177.3 347.11 L178.3 346.98 L179.3 346.86 L180.3 346.75 L181.3 346.64 L182.3 346.54 L183.3 346.45 L184.3 346.36 L185.3 346.28 L186.3 346.2 L187.3 346.13 L188.3 346.07 L189.3 346.01 L190.3 345.97 L191.3 345.92 L192.3 345.89 L193.3 345.86 L194.3 345.84 L195.3 345.82 L196.3 345.81 L197.3 345.81 L198.3 345.81 L199.3 345.82 L200.3 345.84 L201.3 345.86 L202.3 345.89 L203.3 345.93 L204.3 345.97 L205.3 346.02 L206.3 346.08 L207.3 346.14 L208.3 346.21 L209.3 346.28 L210.3 346.37 L211.3 346.45 L212.3 346.55 L213.3 346.65 L214.3 346.76 L215.3 346.87 L216.3 347 L217.3 347.12 L218.3 347.26 L219.3 347.4 L220.3 347.55 L221.3 347.7 L222.3 347.86 L223.3 348.03 L224.3 348.2 L225.3 348.38 L226.3 348.57 L227.3 348.76 L228.3 348.96 L229.3 349.17 L230.3 349.38 L231.3 349.6 L232.3 349.83 L233.3 350.06 L234.3 350.3 L235.3 350.55 L236.3 350.8 L237.3 351.06 L238.3 351.33 L239.3 351.6 L240.3 351.88 L241.3 352.16 L242.3 352.45 L243.3 352.75 L244.3 353.06 L245.3 353.37 L245.4 353.4 L245.4 360.1 L245.3 360.06 L244.3 359.72 L243.3 359.38 L242.3 359.05 L241.3 358.72 L240.3 358.4 L239.3 358.09 L238.3 357.79 L237.3 357.5 L236.3 357.21 L235.3 356.93 L234.3 356.65 L233.3 356.39 L232.3 356.13 L231.3 355.88 L230.3 355.63 L229.3 355.4 L228.3 355.17 L227.3 354.95 L226.3 354.73 L225.3 354.53 L224.3 354.33 L223.3 354.13 L222.3 353.95 L221.3 353.77 L220.3 353.6 L219.3 353.44 L218.3 353.28 L217.3 353.13 L216.3 352.99 L215.3 352.86 L214.3 352.73 L213.3 352.61 L212.3 352.5 L211.3 352.4 L210.3 352.3 L209.3 352.21 L208.3 352.13 L207.3 352.06 L206.3 351.99 L205.3 351.93 L204.3 351.88 L203.3 351.83 L202.3 351.79 L201.3 351.76 L200.3 351.74 L199.3 351.72 L198.3 351.71 L197.3 351.71 L196.3 351.72 L195.3 351.73 L194.3 351.75 L193.3 351.78 L192.3 351.82 L191.3 351.86 L190.3 351.91 L189.3 351.97 L188.3 352.03 L187.3 352.11 L186.3 352.19 L185.3 352.27 L184.3 352.37 L183.3 352.47 L182.3 352.58 L181.3 352.7 L180.3 352.82 L179.3 352.95 L178.3 353.09 L177.3 353.23 L176.3 353.39 L175.3 353.55 L174.3 353.72 L173.3 353.89 L172.3 354.08 L171.3 354.27 L170.3 354.46 L169.3 354.67 L168.3 354.88 L167.3 355.1 L166.3 355.33 L165.3 355.56 L164.3 355.8 L163.3 356.05 L162.3 356.31 L161.3 356.57 L160.3 356.84 L159.3 357.12 L158.3 357.41 L157.3 357.7 L156.3 358ZM158.05 342.52L160.55 342.52L160.55 351.02L158.05 351.02ZM165.85 340.78L168.35 340.78L168.35 349.28L165.85 349.28ZM173.66 339.44L176.16 339.44L176.16 347.94L173.66 347.94ZM181.46 338.5L183.96 338.5L183.96 347L181.46 347ZM189.26 337.96L191.76 337.96L191.76 346.46L189.26 346.46ZM197.06 337.81L199.56 337.81L199.56 346.31L197.06 346.31ZM204.87 338.07L207.37 338.07L207.37 346.57L204.87 346.57ZM212.67 338.72L215.17 338.72L215.17 347.22L212.67 347.22ZM220.47 339.77L222.97 339.77L222.97 348.27L220.47 348.27ZM228.28 341.22L230.78 341.22L230.78 349.72L228.28 349.72ZM236.08 343.07L238.58 343.07L238.58 351.57L236.08 351.57ZM243.88 345.32L245.4 345.32L245.4 353.82L243.88 353.82ZM245.4 353.4 L246.4 353.08 L247.4 352.77 L248.4 352.47 L249.4 352.17 L250.4 351.88 L251.4 351.6 L252.4 351.32 L253.4 351.05 L254.4 350.79 L255.4 350.54 L256.4 350.3 L257.4 350.06 L258.4 349.83 L259.4 349.6 L260.4 349.39 L261.4 349.18 L262.4 348.97 L263.4 348.78 L264.4 348.59 L265.4 348.41 L266.4 348.24 L267.4 348.08 L268.4 347.92 L269.4 347.77 L270.4 347.62 L271.4 347.49 L272.4 347.36 L273.4 347.24 L274.4 347.12 L275.4 347.02 L276.4 346.92 L277.4 346.82 L278.4 346.74 L279.4 346.66 L280.4 346.59 L281.4 346.53 L282.4 346.47 L283.4 346.42 L284.4 346.38 L285.4 346.35 L286.4 346.32 L287.4 346.3 L288.4 346.29 L289.4 346.29 L290.4 346.29 L291.4 346.3 L292.4 346.32 L293.4 346.34 L294.4 346.38 L295.4 346.42 L296.4 346.46 L297.4 346.52 L298.4 346.58 L299.4 346.65 L300.4 346.72 L301.4 346.8 L302.4 346.9 L303.4 346.99 L304.4 347.1 L305.4 347.21 L306.4 347.33 L307.4 347.46 L308.4 347.59 L309.4 347.73 L310.4 347.88 L311.4 348.04 L312.4 348.2 L313.4 348.37 L314.4 348.55 L315.4 348.74 L316.4 348.93 L317.4 349.13 L318.4 349.34 L319.4 349.55 L320.4 349.78 L321.4 350 L322.4 350.24 L323.4 350.49 L324.4 350.74 L325.4 351 L326.4 351.26 L327.4 351.53 L328.4 351.82 L329.4 352.1 L330.4 352.4 L331.4 352.7 L332.4 353.01 L333.4 353.33 L334.4 353.65 L335.4 353.98 L336.4 354.32 L337.2 354.6 L337.2 360.9 L336.4 360.62 L335.4 360.28 L334.4 359.94 L333.4 359.61 L332.4 359.29 L331.4 358.98 L330.4 358.67 L329.4 358.38 L328.4 358.08 L327.4 357.8 L326.4 357.53 L325.4 357.26 L324.4 357 L323.4 356.74 L322.4 356.5 L321.4 356.26 L320.4 356.03 L319.4 355.81 L318.4 355.59 L317.4 355.38 L316.4 355.18 L315.4 354.99 L314.4 354.8 L313.4 354.62 L312.4 354.45 L311.4 354.29 L310.4 354.13 L309.4 353.99 L308.4 353.85 L307.4 353.71 L306.4 353.59 L305.4 353.47 L304.4 353.36 L303.4 353.25 L302.4 353.16 L301.4 353.07 L300.4 352.99 L299.4 352.92 L298.4 352.85 L297.4 352.79 L296.4 352.74 L295.4 352.7 L294.4 352.66 L293.4 352.63 L292.4 352.61 L291.4 352.6 L290.4 352.6 L289.4 352.6 L288.4 352.61 L287.4 352.62 L286.4 352.65 L285.4 352.68 L284.4 352.72 L283.4 352.77 L282.4 352.82 L281.4 352.88 L280.4 352.95 L279.4 353.03 L278.4 353.11 L277.4 353.2 L276.4 353.3 L275.4 353.41 L274.4 353.52 L273.4 353.65 L272.4 353.77 L271.4 353.91 L270.4 354.06 L269.4 354.21 L268.4 354.37 L267.4 354.53 L266.4 354.71 L265.4 354.89 L264.4 355.08 L263.4 355.28 L262.4 355.48 L261.4 355.69 L260.4 355.91 L259.4 356.14 L258.4 356.37 L257.4 356.61 L256.4 356.86 L255.4 357.12 L254.4 357.38 L253.4 357.66 L252.4 357.94 L251.4 358.22 L250.4 358.52 L249.4 358.82 L248.4 359.13 L247.4 359.44 L246.4 359.77 L245.4 360.1ZM245.4 345.49L246.38 345.49L246.38 353.99L245.4 353.99ZM251.69 343.18L254.19 343.18L254.19 351.68L251.69 351.68ZM259.49 341.31L261.99 341.31L261.99 349.81L259.49 349.81ZM267.29 339.9L269.79 339.9L269.79 348.4L267.29 348.4ZM275.09 338.92L277.59 338.92L277.59 347.42L275.09 347.42ZM282.9 338.39L285.4 338.39L285.4 346.89L282.9 346.89ZM290.7 338.31L293.2 338.31L293.2 346.81L290.7 346.81ZM298.5 338.67L301 338.67L301 347.17L298.5 347.17ZM306.31 339.48L308.81 339.48L308.81 347.98L306.31 347.98ZM314.11 340.73L316.61 340.73L316.61 349.23L314.11 349.23ZM321.91 342.43L324.41 342.43L324.41 350.93L321.91 350.93ZM329.72 344.57L332.22 344.57L332.22 353.07L329.72 353.07ZM337.2 354.6 L338.2 354.16 L339.2 353.73 L340.2 353.31 L341.2 352.91 L342.2 352.52 L343.2 352.15 L344.2 351.79 L345.2 351.45 L346.2 351.12 L347.2 350.8 L348.2 350.5 L349.2 350.21 L350.2 349.94 L351.2 349.68 L352.2 349.43 L353.2 349.2 L354.2 348.99 L355.2 348.78 L356.2 348.59 L357.2 348.42 L358.2 348.26 L359.2 348.12 L360.2 347.98 L361.2 347.87 L362.2 347.76 L363.2 347.68 L364.2 347.6 L365.2 347.54 L366.2 347.5 L367.2 347.46 L368.2 347.45 L369.2 347.44 L370.2 347.45 L371.2 347.48 L372.2 347.52 L373.2 347.57 L374.2 347.64 L375.2 347.72 L376.2 347.82 L377.2 347.93 L378.2 348.05 L379.2 348.19 L380.2 348.35 L381.2 348.51 L382.2 348.69 L383.2 348.89 L384.2 349.1 L385.2 349.32 L386.2 349.56 L387.2 349.82 L388.2 350.08 L389.2 350.36 L390.2 350.66 L391.2 350.97 L392.2 351.29 L393.2 351.63 L394.2 351.98 L395.2 352.35 L396.2 352.73 L397.2 353.12 L398.2 353.53 L398.6 353.7 L398.6 360.8 L398.2 360.61 L397.2 360.13 L396.2 359.68 L395.2 359.24 L394.2 358.81 L393.2 358.4 L392.2 358.01 L391.2 357.63 L390.2 357.27 L389.2 356.93 L388.2 356.6 L387.2 356.28 L386.2 355.99 L385.2 355.7 L384.2 355.44 L383.2 355.19 L382.2 354.95 L381.2 354.74 L380.2 354.53 L379.2 354.35 L378.2 354.18 L377.2 354.02 L376.2 353.88 L375.2 353.76 L374.2 353.66 L373.2 353.56 L372.2 353.49 L371.2 353.43 L370.2 353.39 L369.2 353.36 L368.2 353.35 L367.2 353.36 L366.2 353.38 L365.2 353.41 L364.2 353.46 L363.2 353.53 L362.2 353.62 L361.2 353.72 L360.2 353.83 L359.2 353.97 L358.2 354.11 L357.2 354.28 L356.2 354.46 L355.2 354.65 L354.2 354.87 L353.2 355.09 L352.2 355.34 L351.2 355.6 L350.2 355.87 L349.2 356.16 L348.2 356.47 L347.2 356.79 L346.2 357.13 L345.2 357.49 L344.2 357.86 L343.2 358.25 L342.2 358.65 L341.2 359.07 L340.2 359.5 L339.2 359.95 L338.2 360.42 L337.2 360.9ZM337.52 345.91L340.02 345.91L340.02 354.41L337.52 354.41ZM345.32 343L347.82 343L347.82 351.5L345.32 351.5ZM353.12 340.95L355.62 340.95L355.62 349.45L353.12 349.45ZM360.93 339.77L363.43 339.77L363.43 348.27L360.93 348.27ZM368.73 339.45L371.23 339.45L371.23 347.95L368.73 347.95ZM376.53 340L379.03 340L379.03 348.5L376.53 348.5ZM384.34 341.41L386.84 341.41L386.84 349.91L384.34 349.91ZM392.14 343.7L394.64 343.7L394.64 352.2L392.14 352.2Z"/>
<path d="M577.2 299.35 L577.18 298.71 L577.16 298.06 L577.13 297.41 L577.1 296.77 L577.05 296.12 L577 295.48 L576.94 294.83 L576.87 294.19 L576.79 293.55 L576.71 292.91 L576.61 292.27 L576.51 291.63 L576.4 290.99 L576.28 290.35 L576.15 289.72 L576.02 289.09 L575.88 288.45 L575.73 287.82 L575.57 287.19 L575.4 286.57 L575.23 285.94 L575.05 285.32 L574.86 284.7 L574.66 284.08 L574.45 283.47 L574.24 282.86 L574.02 282.25 L573.79 281.64 L573.55 281.03 L573.31 280.43 L573.06 279.83 L572.8 279.24 L572.53 278.64 L572.26 278.05 L571.98 277.47 L571.69 276.88 L571.39 276.31 L571.09 275.73 L570.78 275.16 L570.46 274.59 L570.13 274.02 L569.8 273.46 L569.46 272.91 L569.11 272.35 L568.76 271.81 L568.4 271.26 L568.03 270.72 L567.66 270.19 L567.28 269.65 L566.89 269.13 L566.49 268.61 L566.09 268.09 L565.69 267.58 L565.27 267.07 L564.85 266.57 L564.43 266.07 L563.99 265.58 L563.55 265.09 L563.11 264.61 L562.66 264.13 L562.2 263.66 L561.74 263.2 L561.27 262.74 L560.79 262.28 L560.31 261.83 L559.82 261.39 L559.33 260.95 L558.84 260.52 L558.33 260.1 L557.82 259.68 L557.31 259.26 L556.79 258.86 L556.27 258.45 L555.74 258.06 L555.21 257.67 L554.67 257.29 L554.12 256.91 L553.58 256.54 L553.02 256.18 L552.47 255.83 L551.9 255.48 L551.34 255.13 L550.77 254.8 L550.19 254.47 L549.61 254.15 L549.03 253.83 L548.44 253.52 L547.85 253.22 L547.26 252.93 L546.66 252.64 L546.06 252.36 L545.45 252.09 L544.85 251.82 L544.23 251.56 L543.62 251.31 L543 251.07 L542.38 250.83 L541.75 250.6 L541.13 250.38 L540.5 250.17 L539.86 249.96 L539.23 249.76 L538.59 249.57 L537.95 249.39 L537.31 249.21 L536.66 249.04 L536.02 248.88 L535.37 248.73 L534.72 248.58 L534.07 248.44 L533.41 248.31 L532.76 248.19 L532.1 248.08 L531.44 247.97 L530.78 247.87 L530.12 247.78 L529.46 247.7 L528.8 247.62 L528.13 247.55 L527.47 247.49 L526.8 247.44 L526.14 247.4 L525.47 247.36 L524.8 247.34 L524.14 247.32 L523.47 247.3 L522.8 247.3 L522.13 247.3 L521.46 247.32 L520.8 247.34 L520.13 247.36 L519.46 247.4 L518.8 247.44 L518.13 247.49 L517.47 247.55 L516.8 247.62 L516.14 247.7 L515.48 247.78 L514.82 247.87 L514.16 247.97 L513.5 248.08 L512.84 248.19 L512.19 248.31 L511.53 248.44 L510.88 248.58 L510.23 248.73 L509.58 248.88 L508.94 249.04 L508.29 249.21 L507.65 249.39 L507.01 249.57 L506.37 249.76 L505.74 249.96 L505.1 250.17 L504.47 250.38 L503.85 250.6 L503.22 250.83 L502.6 251.07 L501.98 251.31 L501.37 251.56 L500.75 251.82 L500.15 252.09 L499.54 252.36 L498.94 252.64 L498.34 252.93 L497.75 253.22 L497.16 253.52 L496.57 253.83 L495.99 254.15 L495.41 254.47 L494.83 254.8 L494.26 255.13 L493.7 255.48 L493.13 255.83 L492.58 256.18 L492.02 256.54 L491.48 256.91 L490.93 257.29 L490.39 257.67 L489.86 258.06 L489.33 258.45 L488.81 258.86 L488.29 259.26 L487.78 259.68 L487.27 260.1 L486.76 260.52 L486.27 260.95 L485.78 261.39 L485.29 261.83 L484.81 262.28 L484.33 262.74 L483.86 263.2 L483.4 263.66 L482.94 264.13 L482.49 264.61 L482.05 265.09 L481.61 265.58 L481.17 266.07 L480.75 266.57 L480.33 267.07 L479.91 267.58 L479.51 268.09 L479.11 268.61 L478.71 269.13 L478.32 269.65 L477.94 270.19 L477.57 270.72 L477.2 271.26 L476.84 271.81 L476.49 272.35 L476.14 272.91 L475.8 273.46 L475.47 274.02 L475.14 274.59 L474.82 275.16 L474.51 275.73 L474.21 276.31 L473.91 276.88 L473.62 277.47 L473.34 278.05 L473.07 278.64 L472.8 279.24 L472.54 279.83 L472.29 280.43 L472.05 281.03 L471.81 281.64 L471.58 282.25 L471.36 282.86 L471.15 283.47 L470.94 284.08 L470.74 284.7 L470.55 285.32 L470.37 285.94 L470.2 286.57 L470.03 287.19 L469.87 287.82 L469.72 288.45 L469.58 289.09 L469.45 289.72 L469.32 290.35 L469.2 290.99 L469.09 291.63 L468.99 292.27 L468.89 292.91 L468.81 293.55 L468.73 294.19 L468.66 294.83 L468.6 295.48 L468.55 296.12 L468.5 296.77 L468.47 297.41 L468.44 298.06 L468.42 298.71 L468.4 299.35 L468.4 300 L468.4 300.65 L468.42 301.29 L468.44 301.94 L468.47 302.59 L468.5 303.23 L468.55 303.88 L468.6 304.52 L468.66 305.17 L468.73 305.81 L468.81 306.45 L468.89 307.09 L468.99 307.73 L469.09 308.37 L469.2 309.01 L469.32 309.65 L469.45 310.28 L469.58 310.91 L469.72 311.55 L469.87 312.18 L470.03 312.81 L470.2 313.43 L470.37 314.06 L470.55 314.68 L470.74 315.3 L470.94 315.92 L471.15 316.53 L471.36 317.14 L471.58 317.75 L471.81 318.36 L472.05 318.97 L472.29 319.57 L472.54 320.17 L472.8 320.76 L473.07 321.36 L473.34 321.95 L473.62 322.53 L473.91 323.12 L474.21 323.69 L474.51 324.27 L474.82 324.84 L475.14 325.41 L475.47 325.98 L475.8 326.54 L476.14 327.09 L476.49 327.65 L476.84 328.19 L477.2 328.74 L477.57 329.28 L477.94 329.81 L478.32 330.35 L478.71 330.87 L479.11 331.39 L479.51 331.91 L479.91 332.42 L480.33 332.93 L480.75 333.43 L481.17 333.93 L481.61 334.42 L482.05 334.91 L482.49 335.39 L482.94 335.87 L483.4 336.34 L483.86 336.8 L484.33 337.26 L484.81 337.72 L485.29 338.17 L485.54 338.39 L485.26 338.43 L484.74 338.52 L484.23 338.61 L483.71 338.72 L483.2 338.84 L482.69 338.98 L482.19 339.12 L481.69 339.28 L481.19 339.45 L480.7 339.63 L480.21 339.83 L479.73 340.04 L479.25 340.25 L478.78 340.48 L478.31 340.73 L477.85 340.98 L477.4 341.24 L476.95 341.52 L476.51 341.81 L476.08 342.1 L475.65 342.41 L475.23 342.73 L474.82 343.06 L474.42 343.4 L474.03 343.74 L473.64 344.1 L473.27 344.47 L472.9 344.84 L472.54 345.23 L472.2 345.62 L471.86 346.02 L471.53 346.43 L471.21 346.85 L470.9 347.28 L470.61 347.71 L470.32 348.15 L470.04 348.6 L469.78 349.05 L469.53 349.51 L469.28 349.98 L469.05 350.45 L468.84 350.93 L468.63 351.41 L468.43 351.9 L468.25 352.39 L468.08 352.89 L467.92 353.39 L467.78 353.89 L467.64 354.4 L467.52 354.91 L467.41 355.43 L467.32 355.94 L467.23 356.46 L467.16 356.98 L467.1 357.5 L467.06 358.03 L467.03 358.55 L467.01 359.07 L467 359.6 L467 359.9 L467.01 360.43 L467.03 360.95 L467.06 361.47 L467.1 362 L467.16 362.52 L467.23 363.04 L467.32 363.56 L467.41 364.07 L467.52 364.59 L467.64 365.1 L467.78 365.61 L467.92 366.11 L468.08 366.61 L468.25 367.11 L468.43 367.6 L468.63 368.09 L468.84 368.57 L469.05 369.05 L469.28 369.52 L469.53 369.99 L469.78 370.45 L470.04 370.9 L470.32 371.35 L470.61 371.79 L470.9 372.22 L471.21 372.65 L471.53 373.07 L471.86 373.48 L472.2 373.88 L472.54 374.27 L472.9 374.66 L473.27 375.03 L473.64 375.4 L474.03 375.76 L474.42 376.1 L474.82 376.44 L475.23 376.77 L475.65 377.09 L476.08 377.4 L476.51 377.69 L476.95 377.98 L477.4 378.26 L477.85 378.52 L478.31 378.77 L478.78 379.02 L479.25 379.25 L479.73 379.46 L480.21 379.67 L480.7 379.87 L481.19 380.05 L481.69 380.22 L482.19 380.38 L482.69 380.52 L483.2 380.66 L483.71 380.78 L484.23 380.89 L484.74 380.98 L485.26 381.07 L485.78 381.14 L486.3 381.2 L486.83 381.24 L487.35 381.27 L487.87 381.29 L488.4 381.3 L554.9 381.3 L555.43 381.29 L555.95 381.27 L556.47 381.24 L557 381.2 L557.52 381.14 L558.04 381.07 L558.56 380.98 L559.07 380.89 L559.59 380.78 L560.1 380.66 L560.61 380.52 L561.11 380.38 L561.61 380.22 L562.11 380.05 L562.6 379.87 L563.09 379.67 L563.57 379.46 L564.05 379.25 L564.52 379.02 L564.99 378.77 L565.45 378.52 L565.9 378.26 L566.35 377.98 L566.79 377.69 L567.22 377.4 L567.65 377.09 L568.07 376.77 L568.48 376.44 L568.88 376.1 L569.27 375.76 L569.66 375.4 L570.03 375.03 L570.4 374.66 L570.76 374.27 L571.1 373.88 L571.44 373.48 L571.77 373.07 L572.09 372.65 L572.4 372.22 L572.69 371.79 L572.98 371.35 L573.26 370.9 L573.52 370.45 L573.77 369.99 L574.02 369.52 L574.25 369.05 L574.46 368.57 L574.67 368.09 L574.87 367.6 L575.05 367.11 L575.22 366.61 L575.38 366.11 L575.52 365.61 L575.66 365.1 L575.78 364.59 L575.89 364.07 L575.98 363.56 L576.07 363.04 L576.14 362.52 L576.2 362 L576.24 361.47 L576.27 360.95 L576.29 360.43 L576.3 359.9 L576.3 359.6 L576.29 359.07 L576.27 358.55 L576.24 358.03 L576.2 357.5 L576.14 356.98 L576.07 356.46 L575.98 355.94 L575.89 355.43 L575.78 354.91 L575.66 354.4 L575.52 353.89 L575.38 353.39 L575.22 352.89 L575.05 352.39 L574.87 351.9 L574.67 351.41 L574.46 350.93 L574.25 350.45 L574.02 349.98 L573.77 349.51 L573.52 349.05 L573.26 348.6 L572.98 348.15 L572.69 347.71 L572.4 347.28 L572.09 346.85 L571.77 346.43 L571.44 346.02 L571.1 345.62 L570.76 345.23 L570.4 344.84 L570.03 344.47 L569.66 344.1 L569.27 343.74 L568.88 343.4 L568.48 343.06 L568.07 342.73 L567.65 342.41 L567.22 342.1 L566.79 341.81 L566.35 341.52 L565.9 341.24 L565.45 340.98 L564.99 340.73 L564.52 340.48 L564.05 340.25 L563.57 340.04 L563.09 339.83 L562.6 339.63 L562.11 339.45 L561.61 339.28 L561.11 339.12 L560.61 338.98 L560.1 338.84 L559.68 338.74 L559.82 338.61 L560.31 338.17 L560.79 337.72 L561.27 337.26 L561.74 336.8 L562.2 336.34 L562.66 335.87 L563.11 335.39 L563.55 334.91 L563.99 334.42 L564.43 333.93 L564.85 333.43 L565.27 332.93 L565.69 332.42 L566.09 331.91 L566.49 331.39 L566.89 330.87 L567.28 330.35 L567.66 329.81 L568.03 329.28 L568.4 328.74 L568.76 328.19 L569.11 327.65 L569.46 327.09 L569.8 326.54 L570.13 325.98 L570.46 325.41 L570.78 324.84 L571.09 324.27 L571.39 323.69 L571.69 323.12 L571.98 322.53 L572.26 321.95 L572.53 321.36 L572.8 320.76 L573.06 320.17 L573.31 319.57 L573.55 318.97 L573.79 318.36 L574.02 317.75 L574.24 317.14 L574.45 316.53 L574.66 315.92 L574.86 315.3 L575.05 314.68 L575.23 314.06 L575.4 313.43 L575.57 312.81 L575.73 312.18 L575.88 311.55 L576.02 310.91 L576.15 310.28 L576.28 309.65 L576.4 309.01 L576.51 308.37 L576.61 307.73 L576.71 307.09 L576.79 306.45 L576.87 305.81 L576.94 305.17 L577 304.52 L577.05 303.88 L577.1 303.23 L577.13 302.59 L577.16 301.94 L577.18 301.29 L577.2 300.65 L577.2 300 L577.2 299.35Z" fill="#f6d0ae" stroke="#0c0805" stroke-width="1.7" stroke-linejoin="round"/>
<path fill="#000" d="M484.8 358.8 L485.8 358.51 L486.8 358.22 L487.8 357.95 L488.8 357.68 L489.8 357.42 L490.8 357.17 L491.8 356.92 L492.8 356.68 L493.8 356.45 L494.8 356.23 L495.8 356.02 L496.8 355.81 L497.8 355.61 L498.8 355.42 L499.8 355.24 L500.8 355.07 L501.8 354.9 L502.8 354.74 L503.8 354.59 L504.8 354.45 L505.8 354.31 L506.8 354.18 L507.8 354.06 L508.8 353.95 L509.8 353.85 L510.8 353.75 L511.8 353.66 L512.8 353.58 L513.8 353.51 L514.8 353.44 L515.8 353.38 L516.8 353.33 L517.8 353.29 L518.8 353.26 L519.8 353.23 L520.8 353.21 L521.8 353.2 L522.8 353.2 L523.8 353.21 L524.8 353.22 L525.8 353.24 L526.8 353.27 L527.8 353.3 L528.8 353.35 L529.8 353.4 L530.8 353.46 L531.8 353.53 L532.8 353.6 L533.8 353.69 L534.8 353.78 L535.8 353.88 L536.8 353.98 L537.8 354.1 L538.8 354.22 L539.8 354.35 L540.8 354.49 L541.8 354.63 L542.8 354.79 L543.8 354.95 L544.8 355.12 L545.8 355.29 L546.8 355.48 L547.8 355.67 L548.8 355.87 L549.8 356.08 L550.8 356.3 L551.8 356.52 L552.8 356.75 L553.8 356.99 L554.8 357.24 L555.8 357.5 L556.8 357.76 L557.8 358.03 L558.8 358.31 L559.8 358.59 L560.5 358.8 L560.5 365.9 L559.8 365.64 L558.8 365.28 L557.8 364.92 L556.8 364.58 L555.8 364.25 L554.8 363.92 L553.8 363.61 L552.8 363.31 L551.8 363.01 L550.8 362.73 L549.8 362.45 L548.8 362.19 L547.8 361.93 L546.8 361.69 L545.8 361.46 L544.8 361.23 L543.8 361.02 L542.8 360.81 L541.8 360.62 L540.8 360.43 L539.8 360.26 L538.8 360.09 L537.8 359.94 L536.8 359.79 L535.8 359.66 L534.8 359.53 L533.8 359.42 L532.8 359.31 L531.8 359.21 L530.8 359.13 L529.8 359.05 L528.8 358.99 L527.8 358.93 L526.8 358.89 L525.8 358.85 L524.8 358.82 L523.8 358.81 L522.8 358.8 L521.8 358.8 L520.8 358.82 L519.8 358.84 L518.8 358.87 L517.8 358.92 L516.8 358.97 L515.8 359.03 L514.8 359.11 L513.8 359.19 L512.8 359.28 L511.8 359.38 L510.8 359.5 L509.8 359.62 L508.8 359.75 L507.8 359.89 L506.8 360.05 L505.8 360.21 L504.8 360.38 L503.8 360.56 L502.8 360.75 L501.8 360.95 L500.8 361.17 L499.8 361.39 L498.8 361.62 L497.8 361.86 L496.8 362.11 L495.8 362.37 L494.8 362.64 L493.8 362.92 L492.8 363.22 L491.8 363.52 L490.8 363.83 L489.8 364.15 L488.8 364.48 L487.8 364.82 L486.8 365.17 L485.8 365.53 L484.8 365.9ZM486.95 349.59L489.05 349.59L489.05 358.39L486.95 358.39ZM493.91 347.9L496.01 347.9L496.01 356.7L493.91 356.7ZM500.87 346.58L502.97 346.58L502.97 355.38L500.87 355.38ZM507.83 345.64L509.93 345.64L509.93 354.44L507.83 354.44ZM514.79 345.08L516.89 345.08L516.89 353.88L514.79 353.88ZM521.75 344.9L523.85 344.9L523.85 353.7L521.75 353.7ZM528.71 345.1L530.81 345.1L530.81 353.9L528.71 353.9ZM535.67 345.67L537.77 345.67L537.77 354.47L535.67 354.47ZM542.63 346.63L544.73 346.63L544.73 355.43L542.63 355.43ZM549.59 347.96L551.69 347.96L551.69 356.76L549.59 356.76ZM556.55 349.67L558.65 349.67L558.65 358.47L556.55 358.47Z"/>
<line x1="325.75" y1="118.9" x2="328.4" y2="156.4" stroke="#000" stroke-width="3.5"/><path fill="#000" d="M317.9 152.3 L328.3 155.7 L337.9 151.8 L328.9 166.9Z"/><path fill="#fff" d="M324.6 157 L328.6 157.7 L332.5 156.7 L328.6 162.6Z"/>
<line x1="285.75" y1="275.6" x2="288.4" y2="312.3" stroke="#000" stroke-width="3.5"/><path fill="#000" d="M277.9 308.2 L288.3 311.6 L297.9 307.7 L288.9 322.8Z"/><path fill="#fff" d="M284.6 312.9 L288.6 313.6 L292.5 312.6 L288.6 318.5Z"/>
<line x1="427.2" y1="352.4" x2="457" y2="343.9" stroke="#000" stroke-width="3.6"/>
<path fill="#000" d="M452 335.2 L465.3 340.8 L455.2 353.7 L456.5 344Z"/>
<path fill="#fff" d="M457.2 340.1 L462.3 341.7 L458.4 346.3 L458.6 343.3Z"/>
<g transform="translate(176.5 226)"><path d="M4.6 -0.8 L5.8 -0.5 L14 19.6 L15.7 24.6 L20 35.3 L16.6 36.9 L13.9 29.6 L11.1 23.9 L3.8 3.6 L4.1 0.4Z"/><path d="M23.2 -0.8 L22 -0.5 L13.8 19.6 L12.1 24.6 L7.8 35.3 L11.2 36.9 L13.9 29.6 L16.7 23.9 L24 3.6 L23.7 0.4Z"/><ellipse cx="5.7" cy="41" rx="3.65" ry="6.55" transform="rotate(12 5.7 41)" fill="none" stroke="#000" stroke-width="3.3"/><ellipse cx="22.1" cy="41" rx="3.65" ry="6.55" transform="rotate(-12 22.1 41)" fill="none" stroke="#000" stroke-width="3.3"/></g>
<g transform="translate(271 216.5)"><path d="M4.6 -0.8 L5.8 -0.5 L14 19.6 L15.7 24.6 L20 35.3 L16.6 36.9 L13.9 29.6 L11.1 23.9 L3.8 3.6 L4.1 0.4Z"/><path d="M23.2 -0.8 L22 -0.5 L13.8 19.6 L12.1 24.6 L7.8 35.3 L11.2 36.9 L13.9 29.6 L16.7 23.9 L24 3.6 L23.7 0.4Z"/><ellipse cx="5.7" cy="41" rx="3.65" ry="6.55" transform="rotate(12 5.7 41)" fill="none" stroke="#000" stroke-width="3.3"/><ellipse cx="22.1" cy="41" rx="3.65" ry="6.55" transform="rotate(-12 22.1 41)" fill="none" stroke="#000" stroke-width="3.3"/></g>
<g transform="translate(365.9 200.8)"><path d="M4.6 -0.8 L5.8 -0.5 L14 19.6 L15.7 24.6 L20 35.3 L16.6 36.9 L13.9 29.6 L11.1 23.9 L3.8 3.6 L4.1 0.4Z"/><path d="M23.2 -0.8 L22 -0.5 L13.8 19.6 L12.1 24.6 L7.8 35.3 L11.2 36.9 L13.9 29.6 L16.7 23.9 L24 3.6 L23.7 0.4Z"/><ellipse cx="5.7" cy="41" rx="3.65" ry="6.55" transform="rotate(12 5.7 41)" fill="none" stroke="#000" stroke-width="3.3"/><ellipse cx="22.1" cy="41" rx="3.65" ry="6.55" transform="rotate(-12 22.1 41)" fill="none" stroke="#000" stroke-width="3.3"/></g>
<g transform="translate(455.3 190)"><path d="M4.6 -0.8 L5.8 -0.5 L14 19.6 L15.7 24.6 L20 35.3 L16.6 36.9 L13.9 29.6 L11.1 23.9 L3.8 3.6 L4.1 0.4Z"/><path d="M23.2 -0.8 L22 -0.5 L13.8 19.6 L12.1 24.6 L7.8 35.3 L11.2 36.9 L13.9 29.6 L16.7 23.9 L24 3.6 L23.7 0.4Z"/><ellipse cx="5.7" cy="41" rx="3.65" ry="6.55" transform="rotate(12 5.7 41)" fill="none" stroke="#000" stroke-width="3.3"/><ellipse cx="22.1" cy="41" rx="3.65" ry="6.55" transform="rotate(-12 22.1 41)" fill="none" stroke="#000" stroke-width="3.3"/></g>
<ellipse cx="48.4" cy="100.65" rx="40.1" ry="41.7" fill="#fff" stroke="#c2c2c2" stroke-width="0.9"/>
<ellipse cx="48.4" cy="226.15" rx="40.1" ry="41.7" fill="#fff" stroke="#c2c2c2" stroke-width="0.9"/>
<ellipse cx="48.4" cy="340.15" rx="40.1" ry="41.7" fill="#fff" stroke="#c2c2c2" stroke-width="0.9"/>
</svg>
<div class="t lab" style="left:125.6px;top:43px;">EX&Oacute;N</div>
<div class="t lab int" style="left:213.4px;top:43px;">INTR&Oacute;N</div>
<div class="t lab" style="left:314.6px;top:43px;">EX&Oacute;N</div>
<div class="t lab int" style="left:399.7px;top:43px;">INTR&Oacute;N</div>
<div class="t lab" style="left:490.9px;top:43px;">EX&Oacute;N</div>
<div class="t num" style="left:42.7px;top:86.6px;">1</div>
<div class="t num" style="left:43px;top:208.6px;">2</div>
<div class="t num" style="left:43px;top:321.6px;">3</div>
<div class="t num" style="left:514.8px;top:277px;">4</div>
<div class="t sp" style="left:213.2px;top:232.4px;">splicing</div>
<div class="t sp" style="left:399.3px;top:203.2px;">splicing</div>
</body>
</html>
